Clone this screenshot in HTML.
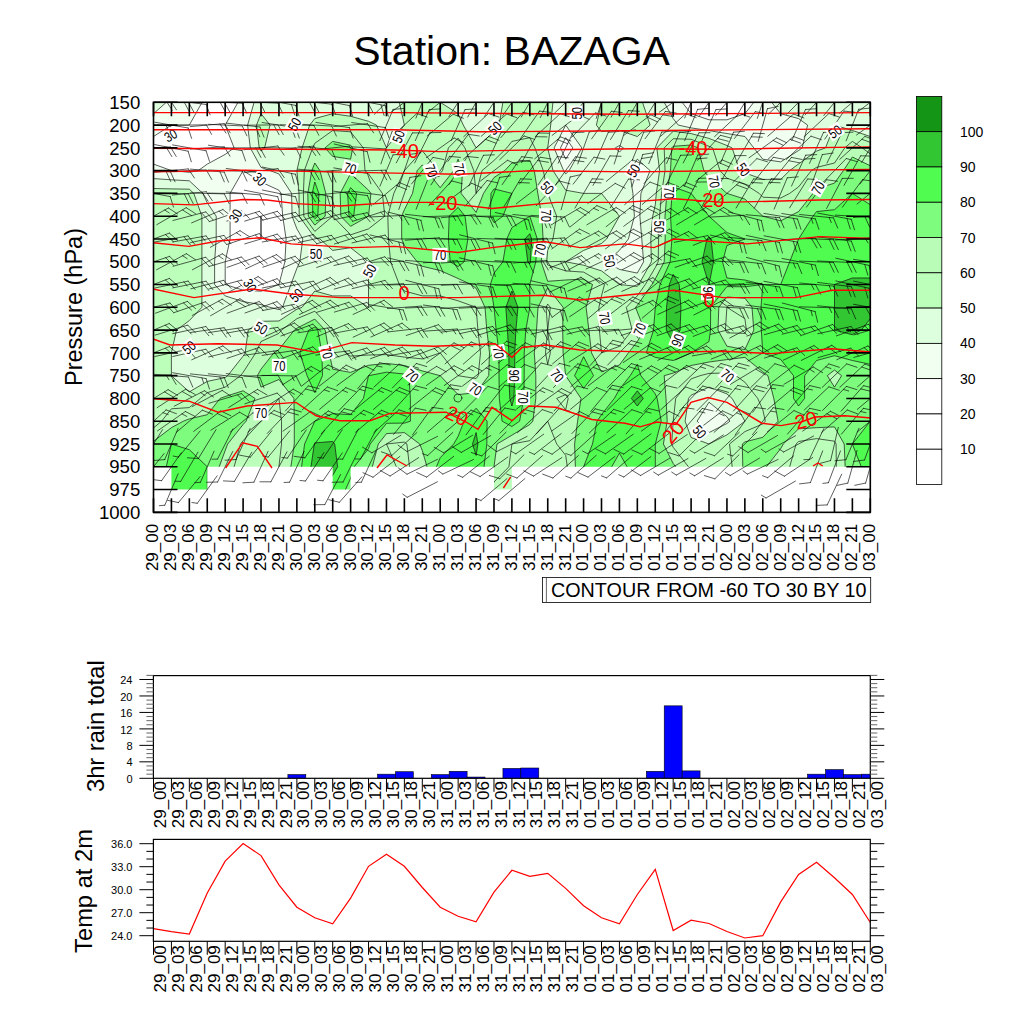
<!DOCTYPE html><html><head><meta charset="utf-8"><style>html,body{margin:0;padding:0;background:#fff;width:1024px;height:1024px;overflow:hidden}svg{display:block}text{font-family:"Liberation Sans",sans-serif}</style></head><body>
<svg width="1024" height="1024" viewBox="0 0 1024 1024">
<rect width="1024" height="1024" fill="#fff"/>
<text x="511.5" y="64.8" font-size="41" text-anchor="middle">Station: BAZAGA</text>
<defs><clipPath id="vc"><rect x="153.5" y="102.3" width="716.80" height="364.48"/><rect x="171.42" y="466.28" width="17.92" height="23.28"/><rect x="189.34" y="466.28" width="17.92" height="23.28"/><rect x="332.70" y="466.28" width="17.92" height="23.28"/><rect x="493.98" y="466.28" width="17.92" height="23.28"/></clipPath><clipPath id="pc"><rect x="153.5" y="102.3" width="716.80" height="410.04"/></clipPath></defs>
<g clip-path="url(#vc)">
<path d="M171.4 102.3L189.3 102.3L202.1 102.3L189.3 125.1L171.4 125.1L171.4 125.1L153.5 136.5L153.5 125.1L153.5 113.7L166.3 102.3ZM243.1 102.3L254.1 102.3L247.6 125.1L250.3 147.9L261.0 167.4L270.0 170.6L278.9 173.9L291.6 193.4L292.1 216.2L296.9 228.9L302.8 239.0L299.8 261.8L296.9 268.3L290.9 284.5L282.5 307.3L278.9 309.6L270.0 307.3L261.0 304.6L243.1 301.6L225.2 295.9L214.6 284.5L214.6 261.8L216.2 239.0L216.2 216.2L207.3 202.9L202.8 193.4L189.3 180.8L171.4 179.8L153.5 178.6L153.5 170.6L153.5 164.1L171.4 170.6L171.4 170.6L189.3 172.3L198.3 170.6L207.3 164.1L225.2 154.4L234.1 147.9L225.2 125.1L238.0 102.3ZM243.1 170.6L230.1 193.4L230.1 216.2L230.1 239.0L225.2 261.8L225.2 261.8L225.2 284.5L225.2 284.5L243.1 290.2L261.0 291.2L278.9 284.5L278.9 284.5L284.9 261.8L286.1 239.0L282.7 216.2L281.0 193.4L278.9 190.2L261.0 182.0L243.1 170.6L243.1 170.6ZM368.5 102.3L368.5 102.3L368.5 102.3L368.5 102.3ZM565.7 125.1L565.7 125.1L581.8 147.9L569.2 170.6L565.7 173.9L563.6 170.6L554.1 147.9L565.7 125.1ZM560.5 147.9L565.7 159.2L572.8 147.9L565.7 137.7ZM673.2 102.3L682.1 102.3L691.1 113.7L709.0 119.8L726.9 119.8L744.9 113.7L753.8 102.3L762.8 102.3L771.7 102.3L780.7 113.7L798.6 118.6L807.6 125.1L802.2 147.9L798.6 150.5L780.7 161.9L762.8 159.2L753.8 147.9L744.9 136.5L726.9 133.5L709.0 130.6L691.1 127.9L678.3 125.1L673.2 118.6L664.2 102.3ZM619.4 145.6L623.6 147.9L619.4 152.1L615.3 147.9ZM637.3 159.2L650.1 170.6L640.9 193.4L639.9 216.2L641.8 239.0L643.6 261.8L637.3 273.1L619.4 269.4L606.6 261.8L619.4 250.4L628.4 239.0L634.4 216.2L632.9 193.4L629.5 170.6ZM709.0 402.2L726.9 416.7L729.9 421.2L726.9 423.5L709.0 432.6L697.1 421.2ZM709.0 421.2L709.0 421.2L709.0 421.2L709.0 421.2Z" fill="#f0fff0" stroke="#f0fff0" stroke-width="0.3"/>
<path d="M153.5 113.7L153.5 102.3L166.3 102.3ZM261.0 102.3L278.9 102.3L296.9 102.3L314.8 102.3L332.7 102.3L350.6 102.3L368.5 102.3L368.5 102.3L368.5 102.3L386.5 102.3L399.3 102.3L404.4 125.1L404.4 125.1L404.4 125.1L386.5 147.9L386.5 147.9L386.5 147.9L376.5 125.1L368.5 121.3L350.6 116.3L332.7 113.7L314.8 118.6L309.7 125.1L302.1 147.9L296.9 170.6L299.0 193.4L299.2 216.2L314.8 237.7L319.9 239.0L332.7 250.4L350.6 247.7L368.5 261.8L368.5 261.8L368.5 284.5L368.5 307.3L368.5 307.3L368.5 307.3L350.6 295.9L332.7 295.9L314.8 291.0L302.0 307.3L296.9 309.2L278.9 321.0L261.0 321.3L248.2 330.1L245.2 352.9L243.1 356.1L227.7 375.7L225.2 377.6L207.3 381.4L189.3 391.9L171.4 375.7L171.4 375.7L171.4 352.9L171.4 352.9L176.5 330.1L189.3 320.6L201.9 307.3L201.9 284.5L201.9 261.8L201.9 239.0L201.9 216.2L193.8 193.4L189.3 189.2L171.4 188.9L153.5 188.5L153.5 178.6L171.4 179.8L189.3 180.8L202.8 193.4L207.3 202.9L216.2 216.2L216.2 239.0L214.6 261.8L214.6 284.5L225.2 295.9L243.1 301.6L261.0 304.6L270.0 307.3L278.9 309.6L282.5 307.3L290.9 284.5L296.9 268.3L299.8 261.8L302.8 239.0L296.9 228.9L292.1 216.2L291.6 193.4L278.9 173.9L270.0 170.6L261.0 167.4L250.3 147.9L247.6 125.1L254.1 102.3ZM256.5 125.1L259.2 147.9L261.0 151.1L264.6 147.9L270.0 125.1L261.0 113.7ZM440.2 102.3L458.1 102.3L476.1 102.3L494.0 102.3L502.9 102.3L499.1 125.1L494.0 131.6L476.1 147.9L476.1 147.9L476.1 147.9L463.3 125.1L458.1 113.7L440.2 102.3L440.2 102.3ZM565.7 102.3L583.6 102.3L601.5 102.3L601.5 102.3L601.5 102.3L596.4 125.1L601.5 131.6L619.4 130.4L637.3 136.5L650.1 125.1L642.5 102.3L655.3 102.3L664.2 102.3L673.2 118.6L678.3 125.1L691.1 127.9L709.0 130.6L726.9 133.5L744.9 136.5L753.8 147.9L762.8 159.2L780.7 161.9L798.6 150.5L802.2 147.9L807.6 125.1L798.6 118.6L780.7 113.7L771.7 102.3L780.7 102.3L798.6 102.3L816.5 102.3L834.5 102.3L852.4 102.3L870.3 102.3L870.3 125.1L870.3 136.5L852.4 130.5L834.5 125.1L825.5 147.9L816.5 151.1L798.6 163.9L789.7 170.6L780.7 179.4L762.8 179.4L744.9 172.9L739.7 170.6L732.1 147.9L726.9 145.5L709.0 138.4L691.1 133.6L673.2 131.2L656.8 147.9L659.6 170.6L656.3 193.4L655.3 204.8L652.7 216.2L650.8 239.0L651.4 261.8L638.7 284.5L637.3 286.4L619.4 284.5L619.4 284.5L601.5 270.9L583.6 265.2L565.7 261.8L565.7 261.8L565.7 261.8L583.6 250.4L601.5 243.5L606.6 239.0L619.4 216.2L601.5 193.4L583.6 193.4L583.6 193.4L565.7 190.2L553.0 170.6L547.7 147.9L547.7 147.9L547.7 147.9L550.7 125.1L552.9 102.3ZM565.7 125.1L554.1 147.9L563.6 170.6L565.7 173.9L569.2 170.6L581.8 147.9L565.7 125.1L565.7 125.1ZM615.3 147.9L619.4 152.1L623.6 147.9L619.4 145.6ZM629.5 170.6L632.9 193.4L634.4 216.2L628.4 239.0L619.4 250.4L606.6 261.8L619.4 269.4L637.3 273.1L643.6 261.8L641.8 239.0L639.9 216.2L640.9 193.4L650.1 170.6L637.3 159.2ZM691.1 395.2L709.0 387.1L726.9 393.9L732.1 398.4L744.9 421.2L744.9 421.2L744.9 421.2L726.9 434.9L709.0 444.0L709.0 444.0L709.0 444.0L691.1 437.5L685.1 421.2L688.5 398.4ZM697.1 421.2L709.0 432.6L726.9 423.5L729.9 421.2L726.9 416.7L709.0 402.2Z" fill="#ddffdd" stroke="#ddffdd" stroke-width="0.3"/>
<path d="M261.0 113.7L270.0 125.1L264.6 147.9L261.0 151.1L259.2 147.9L256.5 125.1ZM314.8 118.6L332.7 113.7L350.6 116.3L368.5 121.3L376.5 125.1L386.5 147.9L386.5 147.9L386.5 147.9L404.4 125.1L404.4 125.1L404.4 125.1L399.3 102.3L404.4 102.3L422.3 102.3L440.2 102.3L440.2 102.3L458.1 113.7L463.3 125.1L476.1 147.9L476.1 147.9L476.1 147.9L494.0 131.6L499.1 125.1L502.9 102.3L511.9 102.3L529.8 102.3L547.7 102.3L552.9 102.3L550.7 125.1L547.7 147.9L547.7 147.9L547.7 147.9L553.0 170.6L565.7 190.2L583.6 193.4L583.6 193.4L601.5 193.4L619.4 216.2L606.6 239.0L601.5 243.5L583.6 250.4L565.7 261.8L565.7 261.8L565.7 261.8L583.6 265.2L601.5 270.9L619.4 284.5L619.4 284.5L637.3 286.4L638.7 284.5L651.4 261.8L650.8 239.0L652.7 216.2L655.3 204.8L656.3 193.4L659.6 170.6L656.8 147.9L673.2 131.2L691.1 133.6L709.0 138.4L726.9 145.5L732.1 147.9L739.7 170.6L744.9 172.9L762.8 179.4L780.7 179.4L789.7 170.6L798.6 163.9L816.5 151.1L825.5 147.9L834.5 125.1L852.4 130.5L870.3 136.5L870.3 147.9L870.3 153.9L862.2 147.9L852.4 141.4L844.7 147.9L834.5 163.0L816.5 167.4L811.4 170.6L798.6 186.9L789.7 193.4L780.7 198.0L762.8 197.2L759.2 193.4L744.9 184.3L726.9 178.2L720.0 170.6L712.6 147.9L709.0 146.3L691.1 139.3L673.2 138.7L664.2 147.9L665.0 170.6L661.6 193.4L659.6 216.2L658.6 239.0L658.2 261.8L655.3 267.5L645.3 284.5L637.3 295.9L626.3 307.3L632.2 330.1L619.4 346.4L601.5 352.9L601.5 352.9L601.5 352.9L599.4 330.1L598.9 307.3L601.5 295.9L604.5 284.5L601.5 282.3L583.6 272.1L565.7 270.9L547.7 265.0L546.7 261.8L547.7 250.4L552.9 239.0L556.7 216.2L547.7 193.4L547.7 193.4L543.3 170.6L534.9 147.9L529.8 137.7L511.9 141.4L506.8 147.9L494.0 160.5L482.0 170.6L476.1 193.4L476.1 193.4L476.1 193.4L473.8 170.6L464.9 147.9L458.1 138.1L448.4 147.9L442.5 170.6L440.2 173.5L438.0 170.6L422.3 150.7L404.4 170.6L404.4 170.6L393.8 193.4L387.8 216.2L388.5 239.0L390.6 261.8L399.3 284.5L404.4 291.0L422.3 295.9L440.2 295.9L458.1 300.8L476.1 307.3L476.1 307.3L477.9 330.1L480.5 352.9L478.2 375.7L476.1 378.5L458.1 375.7L458.1 375.7L440.2 352.9L422.3 358.9L404.4 357.1L386.5 354.6L368.5 355.0L350.6 356.1L345.5 352.9L332.7 330.1L332.7 330.1L314.8 311.2L296.9 318.7L281.5 330.1L278.9 333.4L261.0 341.5L255.7 352.9L243.1 372.4L240.5 375.7L225.2 387.1L207.3 392.7L200.4 398.4L189.3 407.6L171.4 408.8L161.6 421.2L153.5 427.9L153.5 421.2L153.5 398.4L153.5 375.7L153.5 352.9L153.5 330.1L153.5 307.3L153.5 284.5L153.5 261.8L153.5 239.0L153.5 216.2L153.5 193.4L153.5 188.5L171.4 188.9L189.3 189.2L193.8 193.4L201.9 216.2L201.9 239.0L201.9 261.8L201.9 284.5L201.9 307.3L189.3 320.6L176.5 330.1L171.4 352.9L171.4 352.9L171.4 375.7L171.4 375.7L189.3 391.9L207.3 381.4L225.2 377.6L227.7 375.7L243.1 356.1L245.2 352.9L248.2 330.1L261.0 321.3L278.9 321.0L296.9 309.2L302.0 307.3L314.8 291.0L332.7 295.9L350.6 295.9L368.5 307.3L368.5 307.3L368.5 307.3L368.5 284.5L368.5 261.8L368.5 261.8L350.6 247.7L332.7 250.4L319.9 239.0L314.8 237.7L299.2 216.2L299.0 193.4L296.9 170.6L302.1 147.9L309.7 125.1ZM312.7 147.9L304.3 170.6L303.4 193.4L303.8 216.2L314.8 231.4L332.7 216.2L332.7 193.4L332.7 170.6L332.7 170.6L332.7 170.6L332.7 193.4L332.7 216.2L350.6 234.8L368.5 228.9L384.8 216.2L382.4 193.4L368.5 173.9L365.0 170.6L363.3 147.9L350.6 131.8L332.7 130.5L314.8 143.3ZM601.5 102.3L601.5 102.3L619.4 102.3L637.3 102.3L642.5 102.3L650.1 125.1L637.3 136.5L619.4 130.4L601.5 131.6L596.4 125.1ZM547.7 304.1L550.3 307.3L547.7 330.1L550.3 352.9L547.7 364.3L545.5 352.9L547.7 330.1L546.1 307.3ZM726.9 307.3L726.9 307.3L744.9 318.7L746.4 330.1L744.9 333.4L726.9 332.8L725.4 330.1L726.9 307.3ZM709.0 373.4L726.9 373.0L735.9 375.7L744.9 382.2L757.7 398.4L762.8 409.8L765.3 421.2L762.8 423.9L744.9 431.6L729.5 444.0L732.2 466.8L732.2 489.6L732.2 512.3L726.9 512.3L709.0 512.3L691.1 512.3L688.5 512.3L688.5 489.6L688.5 466.8L673.2 447.3L671.6 444.0L673.2 421.2L673.2 421.2L675.7 398.4L691.1 378.9L700.1 375.7ZM688.5 398.4L685.1 421.2L691.1 437.5L709.0 444.0L709.0 444.0L709.0 444.0L726.9 434.9L744.9 421.2L744.9 421.2L744.9 421.2L732.1 398.4L726.9 393.9L709.0 387.1L691.1 395.2ZM278.9 398.4L278.9 398.4L281.5 421.2L281.5 444.0L278.9 466.8L278.9 489.6L278.9 512.3L278.9 512.3L261.0 512.3L243.1 512.3L234.1 512.3L234.1 489.6L234.1 466.8L240.5 444.0L243.1 440.7L261.0 421.2L261.0 421.2L278.9 398.4ZM565.7 394.6L568.2 398.4L565.7 409.8L556.7 398.4ZM547.7 421.2L547.7 421.2L556.7 444.0L565.7 455.4L567.3 466.8L567.3 489.6L567.3 512.3L565.7 512.3L547.7 512.3L529.8 512.3L511.9 512.3L494.0 512.3L491.3 512.3L491.3 489.6L494.0 482.0L508.9 466.8L511.9 444.0L511.9 444.0L529.8 440.7L547.7 421.2ZM386.5 444.0L404.4 442.1L406.9 444.0L409.5 466.8L409.5 489.6L409.5 512.3L404.4 512.3L396.4 512.3L396.4 489.6L396.4 466.8L386.5 444.0L386.5 444.0ZM798.6 441.5L816.5 438.6L834.5 441.2L836.1 444.0L836.3 466.8L836.3 489.6L836.3 512.3L834.5 512.3L816.5 512.3L798.6 512.3L789.7 512.3L789.7 489.6L789.7 466.8L796.1 444.0Z" fill="#bbffbb" stroke="#bbffbb" stroke-width="0.3"/>
<path d="M314.8 143.3L332.7 130.5L350.6 131.8L363.3 147.9L365.0 170.6L368.5 173.9L382.4 193.4L384.8 216.2L368.5 228.9L350.6 234.8L332.7 216.2L332.7 193.4L332.7 170.6L332.7 170.6L332.7 170.6L332.7 193.4L332.7 216.2L314.8 231.4L303.8 216.2L303.4 193.4L304.3 170.6L312.7 147.9ZM325.0 147.9L332.7 156.4L350.6 159.2L352.7 147.9L350.6 145.2L332.7 141.4ZM311.8 170.6L307.8 193.4L308.3 216.2L314.8 225.1L325.2 216.2L325.8 193.4L319.9 170.6L314.8 163.0ZM340.2 193.4L340.8 216.2L350.6 226.3L368.5 216.2L368.5 216.2L370.9 193.4L368.5 190.2L350.6 173.5ZM458.1 138.1L464.9 147.9L473.8 170.6L476.1 193.4L476.1 193.4L476.1 193.4L482.0 170.6L494.0 160.5L506.8 147.9L511.9 141.4L529.8 137.7L534.9 147.9L543.3 170.6L547.7 193.4L547.7 193.4L556.7 216.2L552.9 239.0L547.7 250.4L546.7 261.8L547.7 265.0L565.7 270.9L583.6 272.1L601.5 282.3L604.5 284.5L601.5 295.9L598.9 307.3L599.4 330.1L601.5 352.9L601.5 352.9L601.5 352.9L619.4 346.4L632.2 330.1L626.3 307.3L637.3 295.9L645.3 284.5L655.3 267.5L658.2 261.8L658.6 239.0L659.6 216.2L661.6 193.4L665.0 170.6L664.2 147.9L673.2 138.7L691.1 139.3L709.0 146.3L712.6 147.9L720.0 170.6L726.9 178.2L744.9 184.3L759.2 193.4L762.8 197.2L780.7 198.0L789.7 193.4L798.6 186.9L811.4 170.6L816.5 167.4L834.5 163.0L844.7 147.9L852.4 141.4L862.2 147.9L870.3 153.9L870.3 165.8L852.4 157.0L843.4 170.6L834.5 183.1L816.5 188.9L813.0 193.4L798.6 211.6L789.7 216.2L780.7 220.8L762.8 216.2L762.8 216.2L744.9 199.1L726.9 193.4L726.9 193.4L709.0 177.1L703.9 170.6L698.0 147.9L691.1 145.0L673.2 146.3L671.7 147.9L670.5 170.6L666.9 193.4L665.0 216.2L665.2 239.0L664.2 261.8L655.3 278.8L651.9 284.5L637.3 305.4L635.5 307.3L637.3 311.9L644.5 330.1L637.3 341.5L628.4 352.9L619.4 365.0L601.5 371.9L591.5 352.9L588.9 330.1L586.1 307.3L592.5 284.5L583.6 279.0L565.7 280.0L547.7 281.3L541.2 261.8L543.1 239.0L541.8 216.2L537.8 193.4L534.3 170.6L529.8 160.3L511.9 163.0L504.7 170.6L494.0 177.5L483.5 193.4L476.1 212.4L461.1 193.4L462.6 170.6L458.1 159.2L453.7 170.6L440.2 187.7L426.8 170.6L422.3 164.9L417.2 170.6L412.5 193.4L404.4 209.7L401.6 216.2L401.7 239.0L404.4 245.5L417.2 261.8L422.3 266.3L440.2 270.5L458.1 278.5L470.9 284.5L476.1 288.3L485.0 307.3L486.8 330.1L489.5 352.9L488.7 375.7L476.1 392.7L458.1 394.6L440.2 375.7L440.2 375.7L422.3 370.9L404.4 365.5L386.5 363.4L368.5 365.3L350.6 372.4L332.7 369.2L329.1 352.9L325.2 330.1L314.8 319.1L296.9 328.2L294.3 330.1L278.9 349.6L273.8 352.9L261.0 369.2L257.4 375.7L261.0 387.1L278.9 379.5L293.9 398.4L294.3 421.2L294.3 444.0L290.9 466.8L290.9 489.6L290.9 512.3L278.9 512.3L278.9 489.6L278.9 466.8L281.5 444.0L281.5 421.2L278.9 398.4L278.9 398.4L278.9 398.4L261.0 421.2L261.0 421.2L243.1 440.7L240.5 444.0L234.1 466.8L234.1 489.6L234.1 512.3L225.2 512.3L219.2 512.3L219.2 489.6L219.2 466.8L225.2 450.5L227.7 444.0L243.1 424.5L246.1 421.2L255.0 398.4L243.1 390.8L225.2 396.5L220.1 398.4L207.3 414.7L189.3 418.9L183.4 421.2L171.4 427.7L153.5 441.3L153.5 427.9L161.6 421.2L171.4 408.8L189.3 407.6L200.4 398.4L207.3 392.7L225.2 387.1L240.5 375.7L243.1 372.4L255.7 352.9L261.0 341.5L278.9 333.4L281.5 330.1L296.9 318.7L314.8 311.2L332.7 330.1L332.7 330.1L345.5 352.9L350.6 356.1L368.5 355.0L386.5 354.6L404.4 357.1L422.3 358.9L440.2 352.9L458.1 375.7L458.1 375.7L476.1 378.5L478.2 375.7L480.5 352.9L477.9 330.1L476.1 307.3L476.1 307.3L458.1 300.8L440.2 295.9L422.3 295.9L404.4 291.0L399.3 284.5L390.6 261.8L388.5 239.0L387.8 216.2L393.8 193.4L404.4 170.6L404.4 170.6L422.3 150.7L438.0 170.6L440.2 173.5L442.5 170.6L448.4 147.9ZM547.7 287.8L563.1 307.3L562.7 330.1L563.1 352.9L565.7 375.7L565.7 375.7L581.0 398.4L577.6 421.2L574.6 444.0L575.4 466.8L575.4 489.6L575.4 512.3L567.3 512.3L567.3 489.6L567.3 466.8L565.7 455.4L556.7 444.0L547.7 421.2L547.7 421.2L547.7 421.2L529.8 440.7L511.9 444.0L511.9 444.0L508.9 466.8L494.0 482.0L491.3 489.6L491.3 512.3L485.8 512.3L485.8 489.6L494.0 466.8L494.0 466.8L497.0 444.0L511.9 435.2L529.8 424.5L532.8 421.2L535.8 398.4L535.8 375.7L534.3 352.9L536.5 330.1L538.0 307.3ZM546.1 307.3L547.7 330.1L545.5 352.9L547.7 364.3L550.3 352.9L547.7 330.1L550.3 307.3L547.7 304.1ZM556.7 398.4L565.7 409.8L568.2 398.4L565.7 394.6ZM726.9 297.0L744.9 298.2L752.0 307.3L753.8 330.1L744.9 349.6L726.9 346.2L718.0 330.1L718.8 307.3ZM726.9 307.3L725.4 330.1L726.9 332.8L744.9 333.4L746.4 330.1L744.9 318.7L726.9 307.3L726.9 307.3ZM673.2 373.1L691.1 365.5L709.0 362.0L726.9 359.6L744.9 357.4L762.8 371.9L767.9 375.7L773.8 398.4L778.1 421.2L762.8 437.3L744.9 441.9L742.3 444.0L742.8 466.8L742.8 489.6L742.8 512.3L732.2 512.3L732.2 489.6L732.2 466.8L729.5 444.0L744.9 431.6L762.8 423.9L765.3 421.2L762.8 409.8L757.7 398.4L744.9 382.2L735.9 375.7L726.9 373.0L709.0 373.4L700.1 375.7L691.1 378.9L675.7 398.4L673.2 421.2L673.2 421.2L671.6 444.0L673.2 447.3L688.5 466.8L688.5 489.6L688.5 512.3L675.7 512.3L675.7 489.6L675.7 466.8L673.2 463.5L663.4 444.0L667.2 421.2L666.0 398.4L664.2 375.7ZM834.5 370.0L841.6 375.7L834.5 387.1L827.3 375.7ZM386.5 433.6L404.4 432.6L419.7 444.0L422.3 450.5L427.0 466.8L427.0 489.6L427.0 512.3L422.3 512.3L409.5 512.3L409.5 489.6L409.5 466.8L406.9 444.0L404.4 442.1L386.5 444.0L386.5 444.0L386.5 444.0L396.4 466.8L396.4 489.6L396.4 512.3L386.5 512.3L372.3 512.3L372.3 489.6L372.3 466.8L378.3 444.0ZM798.6 428.8L816.5 427.7L834.5 426.9L844.2 444.0L845.2 466.8L845.2 489.6L845.2 512.3L836.3 512.3L836.3 489.6L836.3 466.8L836.1 444.0L834.5 441.2L816.5 438.6L798.6 441.5L796.1 444.0L789.7 466.8L789.7 489.6L789.7 512.3L780.7 512.3L766.4 512.3L766.4 489.6L766.4 466.8L780.7 448.6L783.3 444.0Z" fill="#b8fcb8" stroke="#b8fcb8" stroke-width="0.3"/>
<path d="M332.7 141.4L350.6 145.2L352.7 147.9L350.6 159.2L332.7 156.4L325.0 147.9ZM673.2 146.3L691.1 145.0L698.0 147.9L703.9 170.6L709.0 177.1L726.9 193.4L726.9 193.4L744.9 199.1L762.8 216.2L762.8 216.2L780.7 220.8L789.7 216.2L798.6 211.6L813.0 193.4L816.5 188.9L834.5 183.1L843.4 170.6L852.4 157.0L870.3 165.8L870.3 170.6L870.3 193.4L870.3 204.8L852.4 193.4L834.5 209.7L816.5 211.6L813.0 216.2L798.6 239.0L798.6 239.0L789.7 261.8L780.7 284.5L780.7 284.5L762.8 284.5L761.0 307.3L761.3 330.1L762.8 352.9L762.8 352.9L780.7 359.4L793.5 375.7L793.5 398.4L798.6 406.0L804.6 398.4L804.6 375.7L816.5 360.5L834.5 355.7L852.4 360.5L870.3 364.3L870.3 375.7L870.3 398.4L870.3 421.2L870.3 421.2L852.4 444.0L861.3 466.8L861.3 489.6L861.3 512.3L852.4 512.3L845.2 512.3L845.2 489.6L845.2 466.8L844.2 444.0L834.5 426.9L816.5 427.7L798.6 428.8L783.3 444.0L780.7 448.6L766.4 466.8L766.4 489.6L766.4 512.3L762.8 512.3L744.9 512.3L742.8 512.3L742.8 489.6L742.8 466.8L742.3 444.0L744.9 441.9L762.8 437.3L778.1 421.2L773.8 398.4L767.9 375.7L762.8 371.9L744.9 357.4L726.9 359.6L709.0 362.0L691.1 365.5L673.2 373.1L664.2 375.7L666.0 398.4L667.2 421.2L663.4 444.0L673.2 463.5L675.7 466.8L675.7 489.6L675.7 512.3L673.2 512.3L655.3 512.3L655.3 512.3L655.3 489.6L655.3 466.8L655.3 444.0L655.3 444.0L661.2 421.2L657.1 398.4L655.3 393.9L640.9 375.7L637.3 364.3L630.2 375.7L619.4 389.3L614.3 398.4L601.5 414.7L597.0 421.2L592.5 444.0L583.6 466.8L583.6 489.6L583.6 512.3L583.6 512.3L575.4 512.3L575.4 489.6L575.4 466.8L574.6 444.0L577.6 421.2L581.0 398.4L565.7 375.7L565.7 375.7L563.1 352.9L562.7 330.1L563.1 307.3L547.7 287.8L538.0 307.3L536.5 330.1L534.3 352.9L535.8 375.7L535.8 398.4L532.8 421.2L529.8 424.5L511.9 435.2L497.0 444.0L494.0 466.8L494.0 466.8L485.8 489.6L485.8 512.3L480.4 512.3L480.4 489.6L484.0 466.8L486.8 444.0L487.1 421.2L476.1 408.2L464.1 421.2L458.1 436.4L453.7 444.0L440.2 457.7L436.4 466.8L436.4 489.6L436.4 512.3L427.0 512.3L427.0 489.6L427.0 466.8L422.3 450.5L419.7 444.0L404.4 432.6L386.5 433.6L378.3 444.0L372.3 466.8L372.3 489.6L372.3 512.3L368.5 512.3L350.6 512.3L345.5 512.3L345.5 489.6L350.6 478.2L354.2 466.8L368.5 448.6L370.2 444.0L386.5 423.3L404.4 423.1L410.4 421.2L410.4 398.4L408.9 375.7L404.4 374.0L386.5 372.2L368.5 375.7L368.5 375.7L363.4 398.4L350.6 414.7L332.7 413.6L314.8 421.2L314.8 421.2L304.6 444.0L301.6 466.8L301.6 489.6L301.6 512.3L296.9 512.3L290.9 512.3L290.9 489.6L290.9 466.8L294.3 444.0L294.3 421.2L293.9 398.4L278.9 379.5L261.0 387.1L257.4 375.7L261.0 369.2L273.8 352.9L278.9 349.6L294.3 330.1L296.9 328.2L314.8 319.1L325.2 330.1L329.1 352.9L332.7 369.2L350.6 372.4L368.5 365.3L386.5 363.4L404.4 365.5L422.3 370.9L440.2 375.7L440.2 375.7L458.1 394.6L476.1 392.7L488.7 375.7L489.5 352.9L486.8 330.1L485.0 307.3L476.1 288.3L470.9 284.5L458.1 278.5L440.2 270.5L422.3 266.3L417.2 261.8L404.4 245.5L401.7 239.0L401.6 216.2L404.4 209.7L412.5 193.4L417.2 170.6L422.3 164.9L426.8 170.6L440.2 187.7L453.7 170.6L458.1 159.2L462.6 170.6L461.1 193.4L476.1 212.4L483.5 193.4L494.0 177.5L504.7 170.6L511.9 163.0L529.8 160.3L534.3 170.6L537.8 193.4L541.8 216.2L543.1 239.0L541.2 261.8L547.7 281.3L565.7 280.0L583.6 279.0L592.5 284.5L586.1 307.3L588.9 330.1L591.5 352.9L601.5 371.9L619.4 365.0L628.4 352.9L637.3 341.5L644.5 330.1L637.3 311.9L635.5 307.3L637.3 305.4L651.9 284.5L655.3 278.8L664.2 261.8L665.2 239.0L665.0 216.2L666.9 193.4L670.5 170.6L671.7 147.9ZM491.0 193.4L490.4 216.2L494.0 222.7L502.9 216.2L511.9 193.4L494.0 188.9ZM672.1 193.4L670.5 216.2L671.9 239.0L670.2 261.8L660.0 284.5L655.3 307.3L655.3 307.3L653.5 330.1L646.3 352.9L655.3 357.4L673.2 360.5L691.1 352.9L691.1 352.9L709.0 341.5L710.5 330.1L710.6 307.3L726.9 286.6L744.9 286.8L762.8 284.5L744.9 280.0L726.9 278.0L722.5 261.8L726.9 245.5L744.9 239.0L726.9 232.5L709.0 216.2L709.0 216.2L691.1 193.4L691.1 193.4L673.2 186.9ZM449.2 216.2L448.4 239.0L450.2 261.8L458.1 266.6L464.1 261.8L467.9 239.0L465.0 216.2L458.1 207.4ZM506.8 239.0L502.9 261.8L494.0 273.1L490.4 284.5L494.0 307.3L494.0 307.3L496.2 330.1L499.0 352.9L499.0 375.7L499.3 398.4L502.1 421.2L511.9 426.5L519.6 421.2L523.8 398.4L524.2 375.7L524.2 352.9L525.8 330.1L529.8 307.3L529.8 284.5L529.8 284.5L535.8 261.8L537.3 239.0L529.8 216.2L511.9 227.6ZM718.8 307.3L718.0 330.1L726.9 346.2L744.9 349.6L753.8 330.1L752.0 307.3L744.9 298.2L726.9 297.0ZM308.8 330.1L299.8 352.9L307.1 375.7L314.8 392.7L322.5 375.7L321.9 352.9L317.8 330.1L314.8 327.0ZM574.6 375.7L583.6 388.3L593.5 375.7L583.6 356.7ZM827.3 375.7L834.5 387.1L841.6 375.7L834.5 370.0ZM314.8 163.0L319.9 170.6L325.8 193.4L325.2 216.2L314.8 225.1L308.3 216.2L307.8 193.4L311.8 170.6ZM312.2 193.4L312.9 216.2L314.8 218.7L317.8 216.2L318.9 193.4L314.8 182.0ZM350.6 173.5L368.5 190.2L370.9 193.4L368.5 216.2L368.5 216.2L350.6 226.3L340.8 216.2L340.2 193.4ZM347.6 193.4L349.0 216.2L350.6 217.9L353.6 216.2L356.6 193.4L350.6 187.7ZM225.2 396.5L243.1 390.8L255.0 398.4L246.1 421.2L243.1 424.5L227.7 444.0L225.2 450.5L219.2 466.8L219.2 489.6L219.2 512.3L207.3 512.3L207.3 512.3L207.3 489.6L207.3 466.8L189.3 449.7L171.4 444.0L166.3 466.8L163.5 489.6L163.5 512.3L153.5 512.3L153.5 489.6L153.5 466.8L153.5 444.0L153.5 441.3L171.4 427.7L183.4 421.2L189.3 418.9L207.3 414.7L220.1 398.4ZM619.4 453.1L627.1 466.8L627.1 489.6L627.1 512.3L619.4 512.3L611.7 512.3L611.7 489.6L611.7 466.8Z" fill="#7dfc7d" stroke="#7dfc7d" stroke-width="0.3"/>
<path d="M314.8 182.0L318.9 193.4L317.8 216.2L314.8 218.7L312.9 216.2L312.2 193.4ZM350.6 187.7L356.6 193.4L353.6 216.2L350.6 217.9L349.0 216.2L347.6 193.4ZM494.0 188.9L511.9 193.4L502.9 216.2L494.0 222.7L490.4 216.2L491.0 193.4ZM673.2 186.9L691.1 193.4L691.1 193.4L709.0 216.2L709.0 216.2L726.9 232.5L744.9 239.0L726.9 245.5L722.5 261.8L726.9 278.0L744.9 280.0L762.8 284.5L744.9 286.8L726.9 286.6L710.6 307.3L710.5 330.1L709.0 341.5L691.1 352.9L691.1 352.9L673.2 360.5L655.3 357.4L646.3 352.9L653.5 330.1L655.3 307.3L655.3 307.3L660.0 284.5L670.2 261.8L671.9 239.0L670.5 216.2L672.1 193.4ZM707.0 239.0L702.1 261.8L709.0 284.5L713.5 261.8L711.0 239.0L709.0 236.9ZM669.4 284.5L666.5 307.3L666.3 330.1L673.2 342.8L680.1 330.1L680.9 307.3L679.2 284.5L673.2 274.4ZM458.1 207.4L465.0 216.2L467.9 239.0L464.1 261.8L458.1 266.6L450.2 261.8L448.4 239.0L449.2 216.2ZM816.5 211.6L834.5 209.7L852.4 193.4L870.3 204.8L870.3 216.2L870.3 239.0L870.3 261.8L870.3 278.0L852.4 278.0L834.5 284.5L834.5 307.3L834.5 330.1L852.4 334.7L861.3 330.1L870.3 318.7L870.3 330.1L870.3 352.9L870.3 364.3L852.4 360.5L834.5 355.7L816.5 360.5L804.6 375.7L804.6 398.4L798.6 406.0L793.5 398.4L793.5 375.7L780.7 359.4L762.8 352.9L762.8 352.9L761.3 330.1L761.0 307.3L762.8 284.5L780.7 284.5L780.7 284.5L789.7 261.8L798.6 239.0L798.6 239.0L813.0 216.2ZM511.9 227.6L529.8 216.2L537.3 239.0L535.8 261.8L529.8 284.5L529.8 284.5L529.8 307.3L525.8 330.1L524.2 352.9L524.2 375.7L523.8 398.4L519.6 421.2L511.9 426.5L502.1 421.2L499.3 398.4L499.0 375.7L499.0 352.9L496.2 330.1L494.0 307.3L494.0 307.3L490.4 284.5L494.0 273.1L502.9 261.8L506.8 239.0ZM524.9 239.0L527.8 261.8L529.8 263.8L530.4 261.8L531.6 239.0L529.8 233.7ZM505.9 307.3L507.4 330.1L508.9 352.9L508.9 375.7L509.8 398.4L511.9 406.0L513.9 398.4L514.7 375.7L514.7 352.9L515.9 330.1L517.9 307.3L511.9 291.0ZM314.8 327.0L317.8 330.1L321.9 352.9L322.5 375.7L314.8 392.7L307.1 375.7L299.8 352.9L308.8 330.1ZM386.5 372.2L404.4 374.0L408.9 375.7L410.4 398.4L410.4 421.2L404.4 423.1L386.5 423.3L370.2 444.0L368.5 448.6L354.2 466.8L350.6 478.2L345.5 489.6L345.5 512.3L332.7 512.3L322.7 512.3L322.7 489.6L332.7 475.3L337.6 466.8L334.7 444.0L332.7 441.5L314.8 442.9L314.3 444.0L311.0 466.8L311.0 489.6L311.0 512.3L301.6 512.3L301.6 489.6L301.6 466.8L304.6 444.0L314.8 421.2L314.8 421.2L332.7 413.6L350.6 414.7L363.4 398.4L368.5 375.7L368.5 375.7ZM583.6 356.7L593.5 375.7L583.6 388.3L574.6 375.7ZM637.3 364.3L640.9 375.7L655.3 393.9L657.1 398.4L661.2 421.2L655.3 444.0L655.3 444.0L655.3 466.8L655.3 489.6L655.3 512.3L637.3 512.3L627.1 512.3L627.1 489.6L627.1 466.8L619.4 453.1L611.7 466.8L611.7 489.6L611.7 512.3L601.5 512.3L583.6 512.3L583.6 489.6L583.6 466.8L592.5 444.0L597.0 421.2L601.5 414.7L614.3 398.4L619.4 389.3L630.2 375.7ZM631.4 398.4L637.3 406.0L643.3 398.4L637.3 390.8ZM476.1 408.2L487.1 421.2L486.8 444.0L484.0 466.8L480.4 489.6L480.4 512.3L476.1 512.3L458.1 512.3L440.2 512.3L436.4 512.3L436.4 489.6L436.4 466.8L440.2 457.7L453.7 444.0L458.1 436.4L464.1 421.2ZM472.5 444.0L476.1 455.4L477.9 444.0L476.1 432.6ZM870.3 421.2L870.3 444.0L870.3 466.8L870.3 489.6L870.3 512.3L861.3 512.3L861.3 489.6L861.3 466.8L852.4 444.0ZM171.4 444.0L189.3 449.7L207.3 466.8L207.3 489.6L207.3 512.3L189.3 512.3L171.4 512.3L163.5 512.3L163.5 489.6L166.3 466.8Z" fill="#50fc50" stroke="#50fc50" stroke-width="0.3"/>
<path d="M529.8 233.7L531.6 239.0L530.4 261.8L529.8 263.8L527.8 261.8L524.9 239.0ZM709.0 236.9L711.0 239.0L713.5 261.8L709.0 284.5L702.1 261.8L707.0 239.0ZM673.2 274.4L679.2 284.5L680.9 307.3L680.1 330.1L673.2 342.8L666.3 330.1L666.5 307.3L669.4 284.5ZM852.4 278.0L870.3 278.0L870.3 284.5L870.3 307.3L870.3 318.7L861.3 330.1L852.4 334.7L834.5 330.1L834.5 307.3L834.5 284.5ZM511.9 291.0L517.9 307.3L515.9 330.1L514.7 352.9L514.7 375.7L513.9 398.4L511.9 406.0L509.8 398.4L508.9 375.7L508.9 352.9L507.4 330.1L505.9 307.3ZM637.3 390.8L643.3 398.4L637.3 406.0L631.4 398.4ZM314.8 442.9L332.7 441.5L334.7 444.0L337.6 466.8L332.7 475.3L322.7 489.6L322.7 512.3L314.8 512.3L311.0 512.3L311.0 489.6L311.0 466.8L314.3 444.0ZM476.1 432.6L477.9 444.0L476.1 455.4L472.5 444.0Z" fill="#33c633" stroke="#33c633" stroke-width="0.3"/>
<path d="M709.0 102.3L709.0 102.3L726.9 102.3L726.9 102.3M261.0 216.2L261.0 216.2L261.0 239.0L261.0 239.0L261.0 239.0L261.0 216.2Z" fill="none" stroke="#000" stroke-width="0.8" stroke-opacity="0.8"/>
<path d="M202.1 102.3L189.3 125.1L171.4 125.1L171.4 125.1L153.5 136.5M682.1 102.3L691.1 113.7L709.0 119.8L726.9 119.8L744.9 113.7L753.8 102.3M153.5 164.1L171.4 170.6L171.4 170.6L189.3 172.3L198.3 170.6L207.3 164.1L225.2 154.4L234.1 147.9L225.2 125.1L238.0 102.3M565.7 137.7L560.5 147.9L565.7 159.2L572.8 147.9ZM243.1 170.6L243.1 170.6L230.1 193.4L230.1 216.2L230.1 239.0L225.2 261.8L225.2 261.8L225.2 284.5L225.2 284.5L243.1 290.2L261.0 291.2L278.9 284.5L278.9 284.5L284.9 261.8L286.1 239.0L282.7 216.2L281.0 193.4L278.9 190.2L261.0 182.0L243.1 170.6ZM709.0 421.2L709.0 421.2L709.0 421.2L709.0 421.2Z" fill="none" stroke="#000" stroke-width="0.8" stroke-opacity="0.8"/>
<path d="M166.3 102.3L153.5 113.7M368.5 102.3L368.5 102.3ZM664.2 102.3L673.2 118.6L678.3 125.1L691.1 127.9L709.0 130.6L726.9 133.5L744.9 136.5L753.8 147.9L762.8 159.2L780.7 161.9L798.6 150.5L802.2 147.9L807.6 125.1L798.6 118.6L780.7 113.7L771.7 102.3M153.5 178.6L171.4 179.8L189.3 180.8L202.8 193.4L207.3 202.9L216.2 216.2L216.2 239.0L214.6 261.8L214.6 284.5L225.2 295.9L243.1 301.6L261.0 304.6L270.0 307.3L278.9 309.6L282.5 307.3L290.9 284.5L296.9 268.3L299.8 261.8L302.8 239.0L296.9 228.9L292.1 216.2L291.6 193.4L278.9 173.9L270.0 170.6L261.0 167.4L250.3 147.9L247.6 125.1L254.1 102.3M565.7 125.1L565.7 125.1L554.1 147.9L563.6 170.6L565.7 173.9L569.2 170.6L581.8 147.9L565.7 125.1ZM619.4 145.6L615.3 147.9L619.4 152.1L623.6 147.9ZM637.3 159.2L629.5 170.6L632.9 193.4L634.4 216.2L628.4 239.0L619.4 250.4L606.6 261.8L619.4 269.4L637.3 273.1L643.6 261.8L641.8 239.0L639.9 216.2L640.9 193.4L650.1 170.6ZM709.0 402.2L697.1 421.2L709.0 432.6L726.9 423.5L729.9 421.2L726.9 416.7L709.0 402.2" fill="none" stroke="#000" stroke-width="0.8" stroke-opacity="0.8"/>
<path d="M440.2 102.3L440.2 102.3L458.1 113.7L463.3 125.1L476.1 147.9L476.1 147.9L476.1 147.9L494.0 131.6L499.1 125.1L502.9 102.3M552.9 102.3L550.7 125.1L547.7 147.9L547.7 147.9L547.7 147.9L553.0 170.6L565.7 190.2L583.6 193.4L583.6 193.4L601.5 193.4L619.4 216.2L606.6 239.0L601.5 243.5L583.6 250.4L565.7 261.8L565.7 261.8L565.7 261.8L583.6 265.2L601.5 270.9L619.4 284.5L619.4 284.5L637.3 286.4L638.7 284.5L651.4 261.8L650.8 239.0L652.7 216.2L655.3 204.8L656.3 193.4L659.6 170.6L656.8 147.9L673.2 131.2L691.1 133.6L709.0 138.4L726.9 145.5L732.1 147.9L739.7 170.6L744.9 172.9L762.8 179.4L780.7 179.4L789.7 170.6L798.6 163.9L816.5 151.1L825.5 147.9L834.5 125.1L852.4 130.5L870.3 136.5M642.5 102.3L650.1 125.1L637.3 136.5L619.4 130.4L601.5 131.6L596.4 125.1L601.5 102.3L601.5 102.3M153.5 188.5L171.4 188.9L189.3 189.2L193.8 193.4L201.9 216.2L201.9 239.0L201.9 261.8L201.9 284.5L201.9 307.3L189.3 320.6L176.5 330.1L171.4 352.9L171.4 352.9L171.4 375.7L171.4 375.7L189.3 391.9L207.3 381.4L225.2 377.6L227.7 375.7L243.1 356.1L245.2 352.9L248.2 330.1L261.0 321.3L278.9 321.0L296.9 309.2L302.0 307.3L314.8 291.0L332.7 295.9L350.6 295.9L368.5 307.3L368.5 307.3L368.5 307.3L368.5 284.5L368.5 261.8L368.5 261.8L350.6 247.7L332.7 250.4L319.9 239.0L314.8 237.7L299.2 216.2L299.0 193.4L296.9 170.6L302.1 147.9L309.7 125.1L314.8 118.6L332.7 113.7L350.6 116.3L368.5 121.3L376.5 125.1L386.5 147.9L386.5 147.9L386.5 147.9L404.4 125.1L404.4 125.1L404.4 125.1L399.3 102.3M261.0 113.7L270.0 125.1L264.6 147.9L261.0 151.1L259.2 147.9L256.5 125.1ZM691.1 395.2L688.5 398.4L685.1 421.2L691.1 437.5L709.0 444.0L709.0 444.0L709.0 444.0L726.9 434.9L744.9 421.2L744.9 421.2L744.9 421.2L732.1 398.4L726.9 393.9L709.0 387.1Z" fill="none" stroke="#000" stroke-width="0.8" stroke-opacity="0.8"/>
<path d="M153.5 427.9L161.6 421.2L171.4 408.8L189.3 407.6L200.4 398.4L207.3 392.7L225.2 387.1L240.5 375.7L243.1 372.4L255.7 352.9L261.0 341.5L278.9 333.4L281.5 330.1L296.9 318.7L314.8 311.2L332.7 330.1L332.7 330.1L345.5 352.9L350.6 356.1L368.5 355.0L386.5 354.6L404.4 357.1L422.3 358.9L440.2 352.9L458.1 375.7L458.1 375.7L476.1 378.5L478.2 375.7L480.5 352.9L477.9 330.1L476.1 307.3L476.1 307.3L458.1 300.8L440.2 295.9L422.3 295.9L404.4 291.0L399.3 284.5L390.6 261.8L388.5 239.0L387.8 216.2L393.8 193.4L404.4 170.6L404.4 170.6L422.3 150.7L438.0 170.6L440.2 173.5L442.5 170.6L448.4 147.9L458.1 138.1L464.9 147.9L473.8 170.6L476.1 193.4L476.1 193.4L476.1 193.4L482.0 170.6L494.0 160.5L506.8 147.9L511.9 141.4L529.8 137.7L534.9 147.9L543.3 170.6L547.7 193.4L547.7 193.4L556.7 216.2L552.9 239.0L547.7 250.4L546.7 261.8L547.7 265.0L565.7 270.9L583.6 272.1L601.5 282.3L604.5 284.5L601.5 295.9L598.9 307.3L599.4 330.1L601.5 352.9L601.5 352.9L601.5 352.9L619.4 346.4L632.2 330.1L626.3 307.3L637.3 295.9L645.3 284.5L655.3 267.5L658.2 261.8L658.6 239.0L659.6 216.2L661.6 193.4L665.0 170.6L664.2 147.9L673.2 138.7L691.1 139.3L709.0 146.3L712.6 147.9L720.0 170.6L726.9 178.2L744.9 184.3L759.2 193.4L762.8 197.2L780.7 198.0L789.7 193.4L798.6 186.9L811.4 170.6L816.5 167.4L834.5 163.0L844.7 147.9L852.4 141.4L862.2 147.9L870.3 153.9M278.9 512.3L278.9 489.6L278.9 466.8L281.5 444.0L281.5 421.2L278.9 398.4L278.9 398.4L278.9 398.4L261.0 421.2L261.0 421.2L243.1 440.7L240.5 444.0L234.1 466.8L234.1 489.6L234.1 512.3M409.5 512.3L409.5 489.6L409.5 466.8L406.9 444.0L404.4 442.1L386.5 444.0L386.5 444.0L386.5 444.0L396.4 466.8L396.4 489.6L396.4 512.3M567.3 512.3L567.3 489.6L567.3 466.8L565.7 455.4L556.7 444.0L547.7 421.2L547.7 421.2L547.7 421.2L529.8 440.7L511.9 444.0L511.9 444.0L508.9 466.8L494.0 482.0L491.3 489.6L491.3 512.3M732.2 512.3L732.2 489.6L732.2 466.8L729.5 444.0L744.9 431.6L762.8 423.9L765.3 421.2L762.8 409.8L757.7 398.4L744.9 382.2L735.9 375.7L726.9 373.0L709.0 373.4L700.1 375.7L691.1 378.9L675.7 398.4L673.2 421.2L673.2 421.2L671.6 444.0L673.2 447.3L688.5 466.8L688.5 489.6L688.5 512.3M836.3 512.3L836.3 489.6L836.3 466.8L836.1 444.0L834.5 441.2L816.5 438.6L798.6 441.5L796.1 444.0L789.7 466.8L789.7 489.6L789.7 512.3M314.8 143.3L332.7 130.5L350.6 131.8L363.3 147.9L365.0 170.6L368.5 173.9L382.4 193.4L384.8 216.2L368.5 228.9L350.6 234.8L332.7 216.2L332.7 193.4L332.7 170.6L332.7 170.6L332.7 170.6L332.7 193.4L332.7 216.2L314.8 231.4L303.8 216.2L303.4 193.4L304.3 170.6L312.7 147.9ZM547.7 304.1L546.1 307.3L547.7 330.1L545.5 352.9L547.7 364.3L550.3 352.9L547.7 330.1L550.3 307.3ZM726.9 307.3L726.9 307.3L725.4 330.1L726.9 332.8L744.9 333.4L746.4 330.1L744.9 318.7L726.9 307.3ZM565.7 394.6L556.7 398.4L565.7 409.8L568.2 398.4Z" fill="none" stroke="#000" stroke-width="0.8" stroke-opacity="0.8"/>
<path d="M153.5 441.3L171.4 427.7L183.4 421.2L189.3 418.9L207.3 414.7L220.1 398.4L225.2 396.5L243.1 390.8L255.0 398.4L246.1 421.2L243.1 424.5L227.7 444.0L225.2 450.5L219.2 466.8L219.2 489.6L219.2 512.3M290.9 512.3L290.9 489.6L290.9 466.8L294.3 444.0L294.3 421.2L293.9 398.4L278.9 379.5L261.0 387.1L257.4 375.7L261.0 369.2L273.8 352.9L278.9 349.6L294.3 330.1L296.9 328.2L314.8 319.1L325.2 330.1L329.1 352.9L332.7 369.2L350.6 372.4L368.5 365.3L386.5 363.4L404.4 365.5L422.3 370.9L440.2 375.7L440.2 375.7L458.1 394.6L476.1 392.7L488.7 375.7L489.5 352.9L486.8 330.1L485.0 307.3L476.1 288.3L470.9 284.5L458.1 278.5L440.2 270.5L422.3 266.3L417.2 261.8L404.4 245.5L401.7 239.0L401.6 216.2L404.4 209.7L412.5 193.4L417.2 170.6L422.3 164.9L426.8 170.6L440.2 187.7L453.7 170.6L458.1 159.2L462.6 170.6L461.1 193.4L476.1 212.4L483.5 193.4L494.0 177.5L504.7 170.6L511.9 163.0L529.8 160.3L534.3 170.6L537.8 193.4L541.8 216.2L543.1 239.0L541.2 261.8L547.7 281.3L565.7 280.0L583.6 279.0L592.5 284.5L586.1 307.3L588.9 330.1L591.5 352.9L601.5 371.9L619.4 365.0L628.4 352.9L637.3 341.5L644.5 330.1L637.3 311.9L635.5 307.3L637.3 305.4L651.9 284.5L655.3 278.8L664.2 261.8L665.2 239.0L665.0 216.2L666.9 193.4L670.5 170.6L671.7 147.9L673.2 146.3L691.1 145.0L698.0 147.9L703.9 170.6L709.0 177.1L726.9 193.4L726.9 193.4L744.9 199.1L762.8 216.2L762.8 216.2L780.7 220.8L789.7 216.2L798.6 211.6L813.0 193.4L816.5 188.9L834.5 183.1L843.4 170.6L852.4 157.0L870.3 165.8M427.0 512.3L427.0 489.6L427.0 466.8L422.3 450.5L419.7 444.0L404.4 432.6L386.5 433.6L378.3 444.0L372.3 466.8L372.3 489.6L372.3 512.3M575.4 512.3L575.4 489.6L575.4 466.8L574.6 444.0L577.6 421.2L581.0 398.4L565.7 375.7L565.7 375.7L563.1 352.9L562.7 330.1L563.1 307.3L547.7 287.8L538.0 307.3L536.5 330.1L534.3 352.9L535.8 375.7L535.8 398.4L532.8 421.2L529.8 424.5L511.9 435.2L497.0 444.0L494.0 466.8L494.0 466.8L485.8 489.6L485.8 512.3M742.8 512.3L742.8 489.6L742.8 466.8L742.3 444.0L744.9 441.9L762.8 437.3L778.1 421.2L773.8 398.4L767.9 375.7L762.8 371.9L744.9 357.4L726.9 359.6L709.0 362.0L691.1 365.5L673.2 373.1L664.2 375.7L666.0 398.4L667.2 421.2L663.4 444.0L673.2 463.5L675.7 466.8L675.7 489.6L675.7 512.3M845.2 512.3L845.2 489.6L845.2 466.8L844.2 444.0L834.5 426.9L816.5 427.7L798.6 428.8L783.3 444.0L780.7 448.6L766.4 466.8L766.4 489.6L766.4 512.3M332.7 141.4L350.6 145.2L352.7 147.9L350.6 159.2L332.7 156.4L325.0 147.9ZM314.8 163.0L319.9 170.6L325.8 193.4L325.2 216.2L314.8 225.1L308.3 216.2L307.8 193.4L311.8 170.6ZM350.6 173.5L368.5 190.2L370.9 193.4L368.5 216.2L368.5 216.2L350.6 226.3L340.8 216.2L340.2 193.4ZM726.9 297.0L718.8 307.3L718.0 330.1L726.9 346.2L744.9 349.6L753.8 330.1L752.0 307.3L744.9 298.2ZM834.5 370.0L827.3 375.7L834.5 387.1L841.6 375.7Z" fill="none" stroke="#000" stroke-width="0.8" stroke-opacity="0.8"/>
<path d="M870.3 364.3L852.4 360.5L834.5 355.7L816.5 360.5L804.6 375.7L804.6 398.4L798.6 406.0L793.5 398.4L793.5 375.7L780.7 359.4L762.8 352.9L762.8 352.9L761.3 330.1L761.0 307.3L762.8 284.5L780.7 284.5L780.7 284.5L789.7 261.8L798.6 239.0L798.6 239.0L813.0 216.2L816.5 211.6L834.5 209.7L852.4 193.4L870.3 204.8M163.5 512.3L163.5 489.6L166.3 466.8L171.4 444.0L189.3 449.7L207.3 466.8L207.3 489.6L207.3 512.3M301.6 512.3L301.6 489.6L301.6 466.8L304.6 444.0L314.8 421.2L314.8 421.2L332.7 413.6L350.6 414.7L363.4 398.4L368.5 375.7L368.5 375.7L386.5 372.2L404.4 374.0L408.9 375.7L410.4 398.4L410.4 421.2L404.4 423.1L386.5 423.3L370.2 444.0L368.5 448.6L354.2 466.8L350.6 478.2L345.5 489.6L345.5 512.3M436.4 512.3L436.4 489.6L436.4 466.8L440.2 457.7L453.7 444.0L458.1 436.4L464.1 421.2L476.1 408.2L487.1 421.2L486.8 444.0L484.0 466.8L480.4 489.6L480.4 512.3M583.6 512.3L583.6 489.6L583.6 466.8L592.5 444.0L597.0 421.2L601.5 414.7L614.3 398.4L619.4 389.3L630.2 375.7L637.3 364.3L640.9 375.7L655.3 393.9L657.1 398.4L661.2 421.2L655.3 444.0L655.3 444.0L655.3 466.8L655.3 489.6L655.3 512.3M627.1 512.3L627.1 489.6L627.1 466.8L619.4 453.1L611.7 466.8L611.7 489.6L611.7 512.3M861.3 512.3L861.3 489.6L861.3 466.8L852.4 444.0L870.3 421.2M314.8 182.0L318.9 193.4L317.8 216.2L314.8 218.7L312.9 216.2L312.2 193.4ZM350.6 187.7L356.6 193.4L353.6 216.2L350.6 217.9L349.0 216.2L347.6 193.4ZM494.0 188.9L511.9 193.4L502.9 216.2L494.0 222.7L490.4 216.2L491.0 193.4ZM673.2 186.9L691.1 193.4L691.1 193.4L709.0 216.2L709.0 216.2L726.9 232.5L744.9 239.0L726.9 245.5L722.5 261.8L726.9 278.0L744.9 280.0L762.8 284.5L744.9 286.8L726.9 286.6L710.6 307.3L710.5 330.1L709.0 341.5L691.1 352.9L691.1 352.9L673.2 360.5L655.3 357.4L646.3 352.9L653.5 330.1L655.3 307.3L655.3 307.3L660.0 284.5L670.2 261.8L671.9 239.0L670.5 216.2L672.1 193.4ZM458.1 207.4L465.0 216.2L467.9 239.0L464.1 261.8L458.1 266.6L450.2 261.8L448.4 239.0L449.2 216.2ZM511.9 227.6L529.8 216.2L537.3 239.0L535.8 261.8L529.8 284.5L529.8 284.5L529.8 307.3L525.8 330.1L524.2 352.9L524.2 375.7L523.8 398.4L519.6 421.2L511.9 426.5L502.1 421.2L499.3 398.4L499.0 375.7L499.0 352.9L496.2 330.1L494.0 307.3L494.0 307.3L490.4 284.5L494.0 273.1L502.9 261.8L506.8 239.0ZM314.8 327.0L317.8 330.1L321.9 352.9L322.5 375.7L314.8 392.7L307.1 375.7L299.8 352.9L308.8 330.1ZM583.6 356.7L593.5 375.7L583.6 388.3L574.6 375.7Z" fill="none" stroke="#000" stroke-width="0.8" stroke-opacity="0.8"/>
<path d="M870.3 318.7L861.3 330.1L852.4 334.7L834.5 330.1L834.5 307.3L834.5 284.5L852.4 278.0L870.3 278.0M311.0 512.3L311.0 489.6L311.0 466.8L314.3 444.0L314.8 442.9L332.7 441.5L334.7 444.0L337.6 466.8L332.7 475.3L322.7 489.6L322.7 512.3M529.8 233.7L531.6 239.0L530.4 261.8L529.8 263.8L527.8 261.8L524.9 239.0ZM709.0 236.9L711.0 239.0L713.5 261.8L709.0 284.5L702.1 261.8L707.0 239.0ZM673.2 274.4L679.2 284.5L680.9 307.3L680.1 330.1L673.2 342.8L666.3 330.1L666.5 307.3L669.4 284.5ZM511.9 291.0L517.9 307.3L515.9 330.1L514.7 352.9L514.7 375.7L513.9 398.4L511.9 406.0L509.8 398.4L508.9 375.7L508.9 352.9L507.4 330.1L505.9 307.3ZM637.3 390.8L643.3 398.4L637.3 406.0L631.4 398.4ZM476.1 432.6L477.9 444.0L476.1 455.4L472.5 444.0Z" fill="none" stroke="#000" stroke-width="0.8" stroke-opacity="0.8"/>
</g>
<g clip-path="url(#pc)" stroke="#000" stroke-width="0.75" stroke-opacity="0.85" fill="none" stroke-linecap="round">
<path d="M136.6 103.9L170.4 100.7M170.4 100.7l6.1 9.2M166.2 101.1l6.1 9.2M154.4 102.5L188.4 102.1M188.4 102.1l5.3 9.7M184.2 102.2l5.3 9.7M172.5 100.1L206.2 104.5M206.2 104.5l3.9 10.3M190.3 102.5L224.3 102.1M224.3 102.1l5.3 9.6M220.0 102.1l5.3 9.6M208.2 101.4L242.2 103.2M242.2 103.2l4.6 10.0M226.1 101.9L260.1 102.7M260.1 102.7l4.9 9.8M244.0 101.4L278.0 103.2M278.0 103.2l4.6 10.0M262.2 99.2L295.7 105.4M295.7 105.4l3.3 10.5M291.5 104.6l3.3 10.5M279.9 102.1L313.9 102.5M313.9 102.5l5.1 9.8M309.6 102.4l5.1 9.8M297.9 100.4L331.7 104.2M331.7 104.2l4.0 10.2M316.0 99.0L349.4 105.6M349.4 105.6l3.2 10.5M333.6 102.3L367.6 102.3M367.6 102.3l5.2 9.7M351.9 98.9L385.2 105.7M385.2 105.7l3.1 10.6M381.0 104.9l3.1 10.6M374.4 114.3L398.5 90.3M398.5 90.3l10.5 3.2M390.8 112.5L418.0 92.1M418.0 92.1l10.0 4.6M415.9 118.1L428.7 86.5M428.7 86.5l10.9 -1.2M427.1 90.5l10.9 -1.2M426.9 112.9L453.5 91.7M453.5 91.7l10.1 4.4M448.9 116.6L467.4 88.0M467.4 88.0l11.0 0.9M467.7 117.1L484.4 87.5M484.4 87.5l11.0 0.2M484.5 116.4L503.4 88.2M503.4 88.2l10.9 1.1M501.1 91.7l10.9 1.1M502.3 116.3L521.5 88.3M521.5 88.3l10.9 1.2M521.3 117.0L538.3 87.6M538.3 87.6l11.0 0.4M536.2 91.2l11.0 0.4M540.3 117.6L555.2 87.0M555.2 87.0l11.0 -0.4M553.5 114.2L577.8 90.4M577.8 90.4l10.5 3.4M573.1 115.7L594.0 88.9M594.0 88.9l10.8 1.9M596.2 118.4L606.8 86.2M606.8 86.2l10.8 -1.8M611.1 117.2L627.7 87.4M627.7 87.4l11.0 0.2M628.9 117.0L645.8 87.6M645.8 87.6l11.0 0.3M646.2 116.7L664.4 87.9M664.4 87.9l11.0 0.8M662.1 91.5l11.0 0.8M659.3 112.2L687.0 92.4M687.0 92.4l9.8 4.9M684.7 118.0L697.5 86.6M697.5 86.6l10.9 -1.1M695.9 90.5l10.9 -1.1M699.2 116.2L718.8 88.4M718.8 88.4l10.9 1.4M716.4 91.9l10.9 1.4M715.9 115.3L738.0 89.3M738.0 89.3l10.7 2.4M735.2 92.6l10.7 2.4M736.1 116.8L753.7 87.8M753.7 87.8l11.0 0.6M757.3 118.4L768.2 86.2M768.2 86.2l10.9 -1.8M768.4 114.1L793.0 90.5M793.0 90.5l10.4 3.4M789.9 93.5l10.4 3.4M786.7 114.4L810.5 90.2M810.5 90.2l10.5 3.1M805.1 114.9L828.0 89.7M828.0 89.7l10.7 2.7M823.8 115.6L845.1 89.0M845.1 89.0l10.8 2.0M839.4 113.3L865.4 91.3M865.4 91.3l10.2 4.1M862.1 94.1l10.2 4.1M856.8 112.6L883.8 92.0M883.8 92.0l10.0 4.6M136.5 124.4L170.5 125.8M170.5 125.8l4.7 9.9M166.2 125.6l4.7 9.9M154.7 122.2L188.2 128.0M188.2 128.0l3.4 10.4M172.3 125.3L206.3 124.8M206.3 124.8l5.3 9.6M190.3 126.6L224.2 123.6M224.2 123.6l6.0 9.2M220.0 123.9l6.0 9.2M208.2 124.3L242.2 125.9M242.2 125.9l4.7 9.9M226.2 123.1L260.0 127.0M260.0 127.0l4.0 10.2M255.8 126.6l4.0 10.2M244.0 125.2L278.0 124.9M278.0 124.9l5.3 9.7M273.8 125.0l5.3 9.7M262.1 122.5L295.7 127.7M295.7 127.7l3.6 10.4M291.5 127.0l3.6 10.4M279.9 124.7L313.9 125.5M313.9 125.5l4.9 9.8M297.8 124.1L331.8 126.1M331.8 126.1l4.6 10.0M315.9 122.4L349.5 127.7M349.5 127.7l3.6 10.4M333.7 126.5L367.6 123.7M367.6 123.7l6.0 9.2M351.7 122.5L385.4 127.6M385.4 127.6l3.7 10.4M379.8 140.7L393.1 109.4M393.1 109.4l11.0 -1.0M391.9 136.7L416.8 113.5M416.8 113.5l10.4 3.6M415.3 140.6L429.3 109.6M429.3 109.6l11.0 -0.7M427.2 136.0L453.2 114.2M453.2 114.2l10.2 4.1M451.1 140.6L465.1 109.6M465.1 109.6l11.0 -0.7M463.4 113.5l11.0 -0.7M463.7 136.7L488.5 113.5M488.5 113.5l10.4 3.6M481.2 136.3L506.7 113.9M506.7 113.9l10.3 3.9M500.7 137.8L523.1 112.3M523.1 112.3l10.7 2.5M520.1 139.0L539.5 111.1M539.5 111.1l10.9 1.3M535.2 136.6L560.3 113.6M560.3 113.6l10.4 3.7M552.1 135.4L579.2 114.8M579.2 114.8l10.0 4.6M571.7 137.3L595.4 112.9M595.4 112.9l10.6 3.1M591.6 138.9L611.4 111.2M611.4 111.2l10.9 1.4M610.5 139.5L628.4 110.6M628.4 110.6l11.0 0.7M623.8 135.4L650.8 114.8M650.8 114.8l10.0 4.6M647.5 117.3l10.0 4.6M645.1 138.7L665.4 111.4M665.4 111.4l10.9 1.7M662.9 114.9l10.9 1.7M660.5 136.4L685.8 113.7M685.8 113.7l10.3 3.8M684.6 140.8L697.6 109.4M697.6 109.4l10.9 -1.1M702.0 140.6L716.0 109.6M716.0 109.6l11.0 -0.7M714.5 136.7L739.4 113.5M739.4 113.5l10.4 3.6M734.4 138.5L755.3 111.7M755.3 111.7l10.8 1.9M758.2 141.4L767.4 108.7M767.4 108.7l10.8 -2.3M767.8 136.2L793.6 114.0M793.6 114.0l10.3 4.0M791.8 140.6L805.5 109.5M805.5 109.5l11.0 -0.8M803.8 113.4l11.0 -0.8M804.1 136.7L828.9 113.5M828.9 113.5l10.4 3.6M824.8 139.1L844.1 111.1M844.1 111.1l10.9 1.2M846.1 140.9L858.7 109.3M858.7 109.3l10.9 -1.2M856.5 135.0L884.1 115.2M884.1 115.2l9.9 4.9M136.5 148.8L170.5 147.0M170.5 147.0l5.7 9.4M166.2 147.2l5.7 9.4M154.7 144.6L188.1 151.2M188.1 151.2l3.2 10.5M172.6 144.9L206.1 150.8M206.1 150.8l3.4 10.5M190.3 149.0L224.2 146.8M224.2 146.8l5.8 9.4M208.4 145.2L242.0 150.6M242.0 150.6l3.6 10.4M226.1 147.9L260.1 147.8M260.1 147.8l5.2 9.7M255.8 147.8l5.2 9.7M244.1 149.7L277.9 146.0M277.9 146.0l6.2 9.1M261.9 147.6L295.9 148.1M295.9 148.1l5.0 9.8M280.0 149.7L313.8 146.1M313.8 146.1l6.2 9.1M309.5 146.5l6.2 9.1M297.9 146.2L331.7 149.6M331.7 149.6l4.2 10.2M315.8 149.6L349.6 146.2M349.6 146.2l6.1 9.1M334.1 144.0L367.2 151.7M367.2 151.7l2.8 10.6M351.6 146.8L385.5 148.9M385.5 148.9l4.6 10.0M380.9 163.9L392.0 131.8M392.0 131.8l10.9 -1.7M396.3 162.8L412.4 132.9M412.4 132.9l11.0 0.0M414.6 163.0L430.0 132.7M430.0 132.7l11.0 -0.2M426.3 157.7L454.1 138.0M454.1 138.0l9.8 4.9M447.9 161.4L468.4 134.3M468.4 134.3l10.9 1.7M463.4 159.2L488.7 136.5M488.7 136.5l10.3 3.8M485.6 139.4l10.3 3.8M486.9 163.3L501.1 132.4M501.1 132.4l11.0 -0.6M499.7 159.7L524.1 136.0M524.1 136.0l10.5 3.4M521.6 162.7L538.1 133.0M538.1 133.0l11.0 0.2M536.0 136.7l11.0 0.2M534.7 158.8L560.7 136.9M560.7 136.9l10.2 4.1M557.5 139.6l10.2 4.1M558.2 163.2L573.1 132.6M573.1 132.6l11.0 -0.4M577.8 163.9L589.3 131.9M589.3 131.9l10.9 -1.6M594.7 163.4L608.3 132.3M608.3 132.3l11.0 -0.9M614.2 164.0L624.6 131.7M624.6 131.7l10.8 -1.9M630.9 163.6L643.8 132.1M643.8 132.1l10.9 -1.1M648.8 163.6L661.7 132.1M661.7 132.1l10.9 -1.1M666.6 163.5L679.8 132.2M679.8 132.2l11.0 -1.0M683.2 162.9L699.0 132.8M699.0 132.8l11.0 -0.1M697.5 160.4L720.5 135.3M720.5 135.3l10.6 2.8M717.6 138.5l10.6 2.8M720.4 163.5L733.5 132.2M733.5 132.2l11.0 -1.0M736.3 162.6L753.4 133.2M753.4 133.2l11.0 0.4M751.3 136.8l11.0 0.4M749.0 157.8L776.6 137.9M776.6 137.9l9.9 4.8M773.1 140.4l9.9 4.8M768.0 159.2L793.4 136.5M793.4 136.5l10.3 3.8M790.2 139.3l10.3 3.8M786.3 159.5L811.0 136.2M811.0 136.2l10.4 3.5M809.5 163.4L823.5 132.4M823.5 132.4l11.0 -0.7M827.0 163.1L841.9 132.6M841.9 132.6l11.0 -0.4M839.8 159.3L865.0 136.4M865.0 136.4l10.3 3.7M861.8 139.3l10.3 3.7M861.7 162.5L878.9 133.2M878.9 133.2l11.0 0.4M136.5 169.5L170.5 171.8M170.5 171.8l4.5 10.0M166.2 171.5l4.5 10.0M154.5 172.3L188.3 168.9M188.3 168.9l6.1 9.1M172.4 171.3L206.3 170.0M206.3 170.0l5.5 9.5M190.3 169.1L224.2 172.1M224.2 172.1l4.3 10.1M220.0 171.8l4.3 10.1M208.2 170.0L242.2 171.2M242.2 171.2l4.8 9.9M226.2 168.5L260.0 172.8M260.0 172.8l3.9 10.3M255.7 172.2l3.9 10.3M244.1 172.7L277.9 168.6M277.9 168.6l6.3 9.0M262.3 167.0L295.5 174.3M295.5 174.3l2.9 10.6M291.4 173.4l2.9 10.6M279.9 171.1L313.9 170.2M313.9 170.2l5.4 9.6M309.6 170.3l5.4 9.6M297.8 169.2L331.7 172.1M331.7 172.1l4.3 10.1M327.5 171.7l4.3 10.1M315.7 171.8L349.7 169.4M349.7 169.4l5.8 9.3M333.8 167.9L367.4 173.4M367.4 173.4l3.5 10.4M351.5 171.1L385.5 170.2M385.5 170.2l5.4 9.6M381.3 170.3l5.4 9.6M379.9 186.3L393.0 154.9M393.0 154.9l10.9 -1.1M398.9 186.7L409.8 154.5M409.8 154.5l10.9 -1.8M411.6 183.9L433.0 157.4M433.0 157.4l10.8 2.1M431.0 184.9L449.5 156.4M449.5 156.4l11.0 1.0M448.8 184.8L467.5 156.5M467.5 156.5l10.9 1.1M468.8 186.0L483.4 155.3M483.4 155.3l11.0 -0.5M480.5 181.0L507.5 160.3M507.5 160.3l10.0 4.6M502.2 184.6L521.6 156.7M521.6 156.7l10.9 1.3M519.2 160.2l10.9 1.3M519.4 184.1L540.2 157.2M540.2 157.2l10.8 1.8M537.6 160.5l10.8 1.8M538.2 184.7L557.3 156.6M557.3 156.6l10.9 1.2M555.8 184.5L575.5 156.8M575.5 156.8l10.9 1.4M573.1 160.3l10.9 1.4M573.2 184.1L594.0 157.2M594.0 157.2l10.8 1.9M593.0 185.4L610.0 155.9M610.0 155.9l11.0 0.4M606.3 181.4L632.6 159.9M632.6 159.9l10.1 4.2M631.9 186.7L642.8 154.5M642.8 154.5l10.9 -1.8M641.4 158.6l10.9 -1.8M644.1 183.5L666.4 157.8M666.4 157.8l10.7 2.4M665.8 185.9L680.6 155.3M680.6 155.3l11.0 -0.4M684.4 186.3L697.8 155.0M697.8 155.0l11.0 -0.9M696.1 158.9l11.0 -0.9M695.8 181.4L722.2 159.9M722.2 159.9l10.1 4.3M718.9 162.6l10.1 4.3M718.9 185.6L735.0 155.6M735.0 155.6l11.0 0.0M732.8 182.6L756.9 158.6M756.9 158.6l10.5 3.2M752.2 184.0L773.3 157.3M773.3 157.3l10.8 2.0M770.0 183.9L791.4 157.4M791.4 157.4l10.8 2.1M788.7 160.7l10.8 2.1M791.5 186.1L805.7 155.2M805.7 155.2l11.0 -0.6M804.0 159.1l11.0 -0.6M810.8 186.7L822.3 154.6M822.3 154.6l10.9 -1.6M822.6 182.8L846.3 158.5M846.3 158.5l10.6 3.1M844.0 185.4L860.7 155.8M860.7 155.8l11.0 0.3M859.9 184.1L880.7 157.2M880.7 157.2l10.8 1.8M136.8 190.2L170.2 196.6M170.2 196.6l3.3 10.5M154.4 192.9L188.4 193.9M188.4 193.9l4.9 9.9M184.2 193.8l4.9 9.9M172.4 195.1L206.3 191.7M206.3 191.7l6.1 9.1M202.0 192.1l6.1 9.1M190.3 193.0L224.3 193.9M224.3 193.9l4.9 9.8M208.2 193.1L242.2 193.7M242.2 193.7l5.0 9.8M226.2 191.9L260.0 194.9M260.0 194.9l4.3 10.1M244.3 190.2L277.7 196.7M277.7 196.7l3.2 10.5M262.3 190.0L295.6 196.8M295.6 196.8l3.1 10.6M279.9 194.7L313.8 192.1M313.8 192.1l5.9 9.3M309.6 192.5l5.9 9.3M298.1 190.0L331.4 196.8M331.4 196.8l3.1 10.6M327.3 196.0l3.1 10.6M315.8 195.2L349.6 191.6M349.6 191.6l6.2 9.1M345.4 192.1l6.2 9.1M333.8 191.2L367.5 195.6M367.5 195.6l3.9 10.3M351.7 191.2L385.4 195.7M385.4 195.7l3.8 10.3M373.4 204.3L399.5 182.6M399.5 182.6l10.2 4.2M396.3 185.3l10.2 4.2M398.8 209.5L410.0 177.4M410.0 177.4l10.9 -1.7M416.1 209.2L428.5 177.6M428.5 177.6l10.9 -1.3M428.7 205.9L451.7 180.9M451.7 180.9l10.6 2.8M444.6 203.7L471.7 183.2M471.7 183.2l10.0 4.6M465.0 206.3L487.1 180.5M487.1 180.5l10.7 2.4M488.2 209.4L499.7 177.4M499.7 177.4l10.9 -1.6M503.2 208.0L520.6 178.8M520.6 178.8l11.0 0.5M518.4 182.5l11.0 0.5M516.3 203.8L543.3 183.1M543.3 183.1l10.0 4.6M536.2 205.9L559.3 181.0M559.3 181.0l10.6 2.8M561.1 209.8L570.2 177.0M570.2 177.0l10.7 -2.4M574.9 208.1L592.2 178.8M592.2 178.8l11.0 0.5M590.1 182.4l11.0 0.5M587.8 203.5L615.2 183.4M615.2 183.4l9.9 4.8M610.3 207.8L628.5 179.1M628.5 179.1l11.0 0.8M624.6 204.7L650.0 182.1M650.0 182.1l10.3 3.8M642.3 204.4L668.3 182.5M668.3 182.5l10.2 4.1M660.0 204.2L686.3 182.6M686.3 182.6l10.2 4.2M683.0 185.3l10.2 4.2M683.4 208.6L698.8 178.3M698.8 178.3l11.0 -0.2M696.9 182.1l11.0 -0.2M700.9 208.3L717.2 178.5M717.2 178.5l11.0 0.1M714.2 204.7L739.6 182.1M739.6 182.1l10.3 3.8M736.5 184.9l10.3 3.8M736.1 208.0L753.6 178.9M753.6 178.9l11.0 0.6M751.4 182.5l11.0 0.6M754.3 208.1L771.3 178.7M771.3 178.7l11.0 0.4M769.1 182.4l11.0 0.4M774.1 209.1L787.3 177.8M787.3 177.8l11.0 -1.0M789.6 207.9L807.6 179.0M807.6 179.0l11.0 0.7M806.5 207.1L826.6 179.7M826.6 179.7l10.9 1.6M826.6 208.5L842.3 178.4M842.3 178.4l11.0 -0.1M842.4 207.2L862.4 179.7M862.4 179.7l10.9 1.5M857.0 204.0L883.6 182.8M883.6 182.8l10.1 4.4M138.6 224.4L168.4 208.0M168.4 208.0l9.2 6.0M164.7 210.0l4.6 3.0M156.7 224.7L186.2 207.7M186.2 207.7l9.3 5.9M182.5 209.9l9.3 5.9M172.9 220.5L205.8 211.9M205.8 211.9l7.4 8.1M201.7 213.0l7.4 8.1M191.6 222.9L222.9 209.5M222.9 209.5l8.6 6.9M219.0 211.2l4.3 3.5M209.1 221.7L241.3 210.7M241.3 210.7l8.0 7.5M237.2 212.1l4.0 3.8M226.8 221.1L259.4 211.3M259.4 211.3l7.8 7.8M255.3 212.5l7.8 7.8M244.7 221.1L277.3 211.3M277.3 211.3l7.7 7.8M273.2 212.6l7.7 7.8M262.4 220.1L295.5 212.3M295.5 212.3l7.2 8.3M291.4 213.3l7.2 8.3M280.4 220.6L313.3 211.8M313.3 211.8l7.5 8.0M309.2 212.9l3.8 4.0M298.7 221.8L330.8 210.6M330.8 210.6l8.1 7.5M326.8 212.0l8.1 7.5M316.3 220.7L349.1 211.7M349.1 211.7l7.5 8.0M345.0 212.9l7.5 8.0M334.0 219.7L367.2 212.7M367.2 212.7l7.1 8.4M363.1 213.5l7.1 8.4M352.4 221.4L384.7 211.0M384.7 211.0l7.9 7.7M380.7 212.3l3.9 3.8M369.5 217.0L403.4 215.4M403.4 215.4l5.6 9.4M399.2 215.6l2.8 4.7M387.9 212.1L420.9 220.3M420.9 220.3l2.6 10.7M416.7 219.3l2.6 10.7M405.4 214.3L439.2 218.1M439.2 218.1l4.1 10.2M435.0 217.6l4.1 10.2M423.2 216.7L457.2 215.7M457.2 215.7l5.5 9.5M453.0 215.8l2.7 4.8M441.2 217.7L475.1 214.7M475.1 214.7l6.0 9.2M470.8 215.1l6.0 9.2M459.1 215.0L493.0 217.4M493.0 217.4l4.5 10.0M488.8 217.1l4.5 10.0M477.0 216.2L511.0 216.2M511.0 216.2l5.1 9.7M506.7 216.2l5.1 9.7M495.3 212.5L528.5 219.9M528.5 219.9l2.9 10.6M524.3 219.0l2.9 10.6M512.9 214.5L546.7 217.9M546.7 217.9l4.2 10.2M542.5 217.5l4.2 10.2M530.8 215.4L564.7 217.0M564.7 217.0l4.7 10.0M560.5 216.8l2.3 5.0M551.1 224.9L580.3 207.5M580.3 207.5l9.4 5.7M576.6 209.7l9.4 5.7M570.3 226.8L596.9 205.6M596.9 205.6l10.1 4.4M593.6 208.3l5.0 2.2M586.9 224.8L616.1 207.6M616.1 207.6l9.4 5.7M612.5 209.7l4.7 2.9M606.1 226.7L632.8 205.7M632.8 205.7l10.1 4.4M629.4 208.3l10.1 4.4M623.7 226.3L651.0 206.1M651.0 206.1l9.9 4.7M647.6 208.6l9.9 4.7M640.1 223.9L670.4 208.5M670.4 208.5l9.0 6.3M666.6 210.4l4.5 3.1M658.5 224.7L687.9 207.7M687.9 207.7l9.3 5.8M684.2 209.8l4.7 2.9M676.5 224.9L705.7 207.5M705.7 207.5l9.4 5.7M702.1 209.7l4.7 2.9M694.4 224.9L723.6 207.5M723.6 207.5l9.4 5.7M720.0 209.7l9.4 5.7M710.0 217.1L743.9 215.3M743.9 215.3l5.7 9.4M739.7 215.5l2.8 4.7M728.4 211.9L761.3 220.5M761.3 220.5l2.5 10.7M757.2 219.5l2.5 10.7M745.8 214.7L779.7 217.7M779.7 217.7l4.3 10.1M775.5 217.3l4.3 10.1M763.9 213.4L797.5 219.0M797.5 219.0l3.5 10.4M793.3 218.3l3.5 10.4M781.8 213.5L815.4 218.9M815.4 218.9l3.5 10.4M811.2 218.2l1.8 5.2M799.6 214.5L833.5 217.9M833.5 217.9l4.2 10.2M829.2 217.5l2.1 5.1M817.7 213.1L851.2 219.3M851.2 219.3l3.3 10.5M847.0 218.5l3.3 10.5M835.4 215.1L869.3 217.3M869.3 217.3l4.5 10.0M865.1 217.0l4.5 10.0M853.4 217.5L887.2 214.9M887.2 214.9l5.9 9.3M883.0 215.2l5.9 9.3M137.6 244.9L169.4 233.1M169.4 233.1l8.2 7.3M165.5 234.6l8.2 7.3M154.7 242.0L188.1 235.9M188.1 235.9l6.8 8.6M184.0 236.7l6.8 8.6M172.6 242.0L206.1 235.9M206.1 235.9l6.8 8.6M201.9 236.7l3.4 4.3M190.6 242.6L223.9 235.4M223.9 235.4l7.1 8.4M219.7 236.3l7.1 8.4M210.4 247.3L240.0 230.7M240.0 230.7l9.3 5.9M236.3 232.7l4.6 3.0M227.0 244.4L259.2 233.6M259.2 233.6l8.0 7.6M255.2 234.9l4.0 3.8M244.7 243.9L277.3 234.1M277.3 234.1l7.8 7.8M273.2 235.3l7.8 7.8M262.2 242.0L295.7 236.0M295.7 236.0l6.8 8.6M291.5 236.7l3.4 4.3M280.5 243.4L313.3 234.5M313.3 234.5l7.5 8.0M309.2 235.6l7.5 8.0M298.2 242.6L331.4 235.3M331.4 235.3l7.1 8.4M327.2 236.2l3.6 4.2M316.4 243.9L349.0 234.0M349.0 234.0l7.8 7.8M344.9 235.3l3.9 3.9M334.4 244.0L366.9 234.0M366.9 234.0l7.8 7.8M362.8 235.2l7.8 7.8M352.0 242.9L385.1 235.1M385.1 235.1l7.3 8.3M380.9 236.0l7.3 8.3M370.0 234.9L403.0 243.1M403.0 243.1l2.7 10.7M398.8 242.0l2.7 10.7M387.4 239.1L421.4 238.8M421.4 238.8l5.2 9.7M417.1 238.9l5.2 9.7M405.3 240.2L439.3 237.8M439.3 237.8l5.8 9.3M435.0 238.1l5.8 9.3M423.2 238.3L457.2 239.6M457.2 239.6l4.8 9.9M453.0 239.5l2.4 5.0M441.1 238.6L475.1 239.4M475.1 239.4l4.9 9.8M470.9 239.3l4.9 9.8M459.6 234.8L492.5 243.1M492.5 243.1l2.6 10.7M488.4 242.1l1.3 5.3M477.0 238.4L511.0 239.6M511.0 239.6l4.8 9.9M506.7 239.4l4.8 9.9M494.9 238.3L528.9 239.7M528.9 239.7l4.8 9.9M524.6 239.5l4.8 9.9M512.8 239.6L546.8 238.3M546.8 238.3l5.5 9.5M542.6 238.5l5.5 9.5M530.8 240.0L564.7 237.9M564.7 237.9l5.8 9.4M560.5 238.2l2.9 4.7M551.8 248.9L579.5 229.1M579.5 229.1l9.9 4.9M576.0 231.5l4.9 2.4M568.5 246.9L598.6 231.1M598.6 231.1l9.1 6.2M594.9 233.1l4.5 3.1M586.6 247.1L616.4 230.9M616.4 230.9l9.2 6.1M612.7 232.9l9.2 6.1M605.5 248.8L633.3 229.2M633.3 229.2l9.8 5.0M629.8 231.6l9.8 5.0M622.5 247.3L652.2 230.6M652.2 230.6l9.3 5.9M648.4 232.7l9.3 5.9M641.3 248.7L669.2 229.2M669.2 229.2l9.8 5.0M665.7 231.7l9.8 5.0M657.9 246.4L688.5 231.5M688.5 231.5l8.9 6.5M684.6 233.4l4.4 3.2M674.4 242.3L707.8 235.6M707.8 235.6l7.0 8.5M703.6 236.5l3.5 4.3M693.2 245.3L724.8 232.7M724.8 232.7l8.4 7.1M720.9 234.2l8.4 7.1M710.4 235.1L743.5 242.9M743.5 242.9l2.8 10.6M739.3 241.9l2.8 10.6M727.9 237.3L761.8 240.6M761.8 240.6l4.2 10.2M757.6 240.2l2.1 5.1M746.2 235.4L779.4 242.5M779.4 242.5l3.0 10.6M775.2 241.7l3.0 10.6M764.0 235.8L797.4 242.1M797.4 242.1l3.3 10.5M793.2 241.3l3.3 10.5M781.6 239.7L815.6 238.2M815.6 238.2l5.6 9.5M811.4 238.4l5.6 9.5M799.6 238.3L833.5 239.7M833.5 239.7l4.8 9.9M829.3 239.5l4.8 9.9M817.6 236.8L851.3 241.1M851.3 241.1l3.9 10.3M847.1 240.6l3.9 10.3M835.4 240.0L869.3 237.9M869.3 237.9l5.8 9.4M865.1 238.2l2.9 4.7M853.3 238.2L887.3 239.8M887.3 239.8l4.7 9.9M883.0 239.6l2.4 5.0M137.4 267.2L169.6 256.4M169.6 256.4l8.0 7.6M165.6 257.7l8.0 7.6M156.5 269.8L186.4 253.7M186.4 253.7l9.2 6.1M182.6 255.7l4.6 3.0M173.0 266.3L205.7 257.2M205.7 257.2l7.6 8.0M201.6 258.4l7.6 8.0M192.3 269.8L222.3 253.8M222.3 253.8l9.1 6.1M218.5 255.8l4.6 3.1M208.9 266.5L241.5 257.0M241.5 257.0l7.7 7.9M237.4 258.2l7.7 7.9M227.1 267.4L259.1 256.1M259.1 256.1l8.1 7.4M255.1 257.5l8.1 7.4M245.6 268.9L276.4 254.6M276.4 254.6l8.8 6.6M272.6 256.4l8.8 6.6M262.8 267.2L295.1 256.3M295.1 256.3l8.0 7.6M291.0 257.7l8.0 7.6M281.4 268.8L312.3 254.7M312.3 254.7l8.7 6.7M308.5 256.5l8.7 6.7M298.6 266.8L331.0 256.7M331.0 256.7l7.8 7.7M327.0 258.0l3.9 3.9M316.7 267.5L348.7 256.0M348.7 256.0l8.1 7.4M344.7 257.5l8.1 7.4M334.0 265.5L367.2 258.0M367.2 258.0l7.2 8.3M363.1 259.0l7.2 8.3M352.3 266.7L384.8 256.8M384.8 256.8l7.8 7.8M380.7 258.0l7.8 7.8M369.5 262.4L403.4 261.2M403.4 261.2l5.5 9.5M399.2 261.3l5.5 9.5M387.8 257.9L420.9 265.7M420.9 265.7l2.8 10.6M416.8 264.7l2.8 10.6M405.4 260.4L439.2 263.2M439.2 263.2l4.3 10.1M435.0 262.8l4.3 10.1M423.3 262.8L457.2 260.7M457.2 260.7l5.8 9.4M452.9 261.0l5.8 9.4M441.2 263.1L475.1 260.4M475.1 260.4l5.9 9.3M470.8 260.7l3.0 4.6M459.5 257.8L492.6 265.8M492.6 265.8l2.7 10.7M488.5 264.8l2.7 10.7M477.0 261.0L511.0 262.5M511.0 262.5l4.7 9.9M506.7 262.3l2.4 5.0M494.9 260.7L528.9 262.8M528.9 262.8l4.6 10.0M524.6 262.5l2.3 5.0M512.9 263.0L546.8 260.5M546.8 260.5l5.9 9.3M542.5 260.8l5.9 9.3M530.7 262.2L564.7 261.3M564.7 261.3l5.4 9.6M560.5 261.4l5.4 9.6M549.8 267.8L581.5 255.7M581.5 255.7l8.3 7.2M577.6 257.2l8.3 7.2M568.6 269.8L598.5 253.7M598.5 253.7l9.2 6.1M594.8 255.7l4.6 3.1M586.1 269.0L616.9 254.6M616.9 254.6l8.8 6.6M613.0 256.4l4.4 3.3M605.1 270.9L633.8 252.6M633.8 252.6l9.6 5.4M630.2 254.9l9.6 5.4M622.3 269.7L652.4 253.8M652.4 253.8l9.1 6.2M648.6 255.8l4.6 3.1M642.0 272.5L668.5 251.1M668.5 251.1l10.1 4.3M665.2 253.7l10.1 4.3M656.5 264.8L689.9 258.7M689.9 258.7l6.8 8.6M685.7 259.5l3.4 4.3M675.1 267.4L707.1 256.1M707.1 256.1l8.1 7.4M703.1 257.5l8.1 7.4M692.7 266.6L725.3 256.9M725.3 256.9l7.7 7.8M721.2 258.1l7.7 7.8M710.0 260.7L743.9 262.8M743.9 262.8l4.5 10.0M739.7 262.6l4.5 10.0M728.0 259.8L761.7 263.7M761.7 263.7l4.0 10.2M757.5 263.2l2.0 5.1M746.4 257.4L779.2 266.1M779.2 266.1l2.5 10.7M775.1 265.1l1.2 5.4M763.8 260.1L797.6 263.4M797.6 263.4l4.2 10.2M793.4 263.0l2.1 5.1M782.0 258.4L815.3 265.1M815.3 265.1l3.1 10.5M811.1 264.3l1.6 5.3M799.6 261.1L833.5 262.5M833.5 262.5l4.8 9.9M829.3 262.3l4.8 9.9M817.5 261.0L851.4 262.5M851.4 262.5l4.8 9.9M847.2 262.3l4.8 9.9M835.8 258.2L869.0 265.4M869.0 265.4l3.0 10.6M864.8 264.5l3.0 10.6M853.5 259.4L887.1 264.1M887.1 264.1l3.8 10.3M882.9 263.5l1.9 5.2M137.6 290.6L169.4 278.4M169.4 278.4l8.3 7.2M165.4 280.0l8.3 7.2M154.8 288.0L188.1 281.1M188.1 281.1l7.0 8.4M183.9 281.9l3.5 4.2M172.7 287.9L206.0 281.2M206.0 281.2l7.0 8.5M201.8 282.0l7.0 8.5M190.8 288.8L223.7 280.3M223.7 280.3l7.4 8.1M219.6 281.3l3.7 4.1M208.8 289.0L241.6 280.1M241.6 280.1l7.5 8.0M237.5 281.2l7.5 8.0M228.1 292.5L258.1 276.6M258.1 276.6l9.1 6.2M254.4 278.6l9.1 6.2M245.1 290.4L277.0 278.7M277.0 278.7l8.2 7.4M273.0 280.2l8.2 7.4M262.3 288.0L295.6 281.1M295.6 281.1l7.0 8.5M291.4 281.9l7.0 8.5M280.2 287.9L313.5 281.2M313.5 281.2l7.0 8.5M309.4 282.0l7.0 8.5M299.3 291.6L330.2 277.5M330.2 277.5l8.7 6.7M326.4 279.2l8.7 6.7M317.0 291.0L348.4 278.1M348.4 278.1l8.5 7.0M344.5 279.7l8.5 7.0M334.2 289.1L367.0 280.0M367.0 280.0l7.6 8.0M362.9 281.1l7.6 8.0M352.1 288.7L385.0 280.4M385.0 280.4l7.4 8.2M380.9 281.4l7.4 8.2M369.5 285.4L403.4 283.7M403.4 283.7l5.7 9.4M399.2 283.9l5.7 9.4M387.4 285.0L421.4 284.1M421.4 284.1l5.4 9.6M417.1 284.2l5.4 9.6M405.8 280.3L438.8 288.8M438.8 288.8l2.6 10.7M434.6 287.7l2.6 10.7M423.2 284.8L457.2 284.3M457.2 284.3l5.3 9.6M453.0 284.4l2.7 4.8M441.2 285.3L475.1 283.8M475.1 283.8l5.6 9.5M470.9 284.0l2.8 4.7M459.3 281.9L492.8 287.2M492.8 287.2l3.6 10.4M488.6 286.6l3.6 10.4M477.0 283.3L510.9 285.8M510.9 285.8l4.4 10.1M506.7 285.5l4.4 10.1M494.9 285.1L528.9 284.0M528.9 284.0l5.5 9.5M524.6 284.1l5.5 9.5M512.9 283.3L546.8 285.8M546.8 285.8l4.5 10.1M542.5 285.4l4.5 10.1M531.2 280.8L564.3 288.3M564.3 288.3l2.9 10.6M560.2 287.3l1.5 5.3M550.3 291.9L581.0 277.2M581.0 277.2l8.8 6.5M577.2 279.0l8.8 6.5M567.9 291.1L599.3 278.0M599.3 278.0l8.5 7.0M595.3 279.6l4.3 3.5M586.2 291.9L616.8 277.2M616.8 277.2l8.9 6.5M613.0 279.0l8.9 6.5M604.4 292.4L634.5 276.7M634.5 276.7l9.1 6.2M630.7 278.6l9.1 6.2M621.8 291.4L652.9 277.7M652.9 277.7l8.6 6.8M649.0 279.4l4.3 3.4M642.1 295.3L668.4 273.8M668.4 273.8l10.2 4.2M665.1 276.5l5.1 2.1M657.2 290.2L689.2 278.8M689.2 278.8l8.1 7.4M685.2 280.3l8.1 7.4M675.7 291.6L706.5 277.4M706.5 277.4l8.7 6.7M702.7 279.2l4.4 3.3M692.6 289.1L725.4 280.0M725.4 280.0l7.6 8.0M721.3 281.2l3.8 4.0M710.0 285.3L743.9 283.8M743.9 283.8l5.6 9.5M739.7 284.0l5.6 9.5M727.9 285.7L761.8 283.4M761.8 283.4l5.8 9.3M757.6 283.7l5.8 9.3M746.0 282.1L779.6 287.0M779.6 287.0l3.7 10.4M775.4 286.4l1.8 5.2M764.0 281.3L797.4 287.7M797.4 287.7l3.2 10.5M793.2 286.9l3.2 10.5M781.6 284.5L815.6 284.6M815.6 284.6l5.1 9.7M811.4 284.6l2.6 4.9M799.6 283.0L833.5 286.1M833.5 286.1l4.2 10.1M829.2 285.7l2.1 5.1M817.6 282.4L851.3 286.7M851.3 286.7l3.9 10.3M847.1 286.1l3.9 10.3M835.8 280.9L869.0 288.2M869.0 288.2l3.0 10.6M864.8 287.3l3.0 10.6M853.6 281.1L887.0 288.0M887.0 288.0l3.1 10.6M882.8 287.1l3.1 10.6M137.0 311.6L170.0 303.0M170.0 303.0l7.4 8.1M165.8 304.1l7.4 8.1M155.5 313.2L187.4 301.4M187.4 301.4l8.2 7.3M183.4 302.9l8.2 7.3M173.3 312.9L205.4 301.8M205.4 301.8l8.0 7.5M201.4 303.2l8.0 7.5M192.3 315.4L222.2 299.2M222.2 299.2l9.2 6.1M218.5 301.2l4.6 3.0M210.5 315.8L239.9 298.8M239.9 298.8l9.3 5.8M236.2 300.9l9.3 5.8M227.1 313.2L259.1 301.5M259.1 301.5l8.2 7.3M255.1 302.9l8.2 7.3M245.0 313.0L277.0 301.6M277.0 301.6l8.1 7.4M273.0 303.1l8.1 7.4M262.3 310.6L295.6 304.1M295.6 304.1l6.9 8.6M291.5 304.9l3.5 4.3M281.4 314.3L312.3 300.3M312.3 300.3l8.7 6.7M308.5 302.1l8.7 6.7M299.4 314.5L330.2 300.2M330.2 300.2l8.8 6.6M326.3 302.0l8.8 6.6M316.5 312.4L348.9 302.3M348.9 302.3l7.8 7.7M344.9 303.5l3.9 3.9M334.3 312.1L366.9 302.5M366.9 302.5l7.7 7.8M362.8 303.7l7.7 7.8M353.1 314.4L384.0 300.3M384.0 300.3l8.7 6.7M380.1 302.0l4.4 3.3M369.7 304.7L403.3 310.0M403.3 310.0l3.6 10.4M399.1 309.3l3.6 10.4M387.4 308.5L421.3 306.1M421.3 306.1l5.8 9.3M417.1 306.4l5.8 9.3M405.3 308.0L439.3 306.7M439.3 306.7l5.5 9.5M435.0 306.8l5.5 9.5M423.4 305.0L457.1 309.7M457.1 309.7l3.8 10.3M452.8 309.1l3.8 10.3M441.2 308.5L475.1 306.2M475.1 306.2l5.8 9.3M470.9 306.5l5.8 9.3M459.1 308.2L493.0 306.5M493.0 306.5l5.6 9.4M488.8 306.7l2.8 4.7M477.0 308.5L510.9 306.2M510.9 306.2l5.8 9.3M506.7 306.5l5.8 9.3M494.9 307.3L528.9 307.3M528.9 307.3l5.2 9.7M524.6 307.3l2.6 4.9M512.8 307.3L546.8 307.3M546.8 307.3l5.2 9.7M542.6 307.3l2.6 4.9M531.1 303.9L564.4 310.7M564.4 310.7l3.1 10.5M560.2 309.9l3.1 10.5M552.0 317.5L579.3 297.2M579.3 297.2l9.9 4.7M575.9 299.7l9.9 4.7M569.5 316.8L597.7 297.9M597.7 297.9l9.7 5.2M594.2 300.2l9.7 5.2M588.5 318.2L614.5 296.4M614.5 296.4l10.2 4.1M611.3 299.1l10.2 4.1M605.9 317.6L632.9 297.0M632.9 297.0l10.0 4.6M629.6 299.6l10.0 4.6M621.8 314.2L652.9 300.4M652.9 300.4l8.7 6.8M649.0 302.1l4.3 3.4M642.2 318.1L668.4 296.5M668.4 296.5l10.2 4.2M665.1 299.2l10.2 4.2M657.8 314.5L688.6 300.1M688.6 300.1l8.8 6.6M684.7 301.9l8.8 6.6M675.1 313.1L707.1 301.5M707.1 301.5l8.2 7.4M703.1 303.0l8.2 7.4M693.8 315.0L724.2 299.7M724.2 299.7l9.0 6.3M720.4 301.6l9.0 6.3M710.0 306.3L743.9 308.3M743.9 308.3l4.6 10.0M739.7 308.1l4.6 10.0M728.0 305.4L761.8 309.2M761.8 309.2l4.0 10.2M757.5 308.7l4.0 10.2M745.9 305.1L779.6 309.6M779.6 309.6l3.8 10.3M775.4 309.0l3.8 10.3M764.0 304.0L797.4 310.7M797.4 310.7l3.1 10.5M793.2 309.8l3.1 10.5M782.2 303.0L815.1 311.6M815.1 311.6l2.6 10.7M811.0 310.5l1.3 5.3M799.5 306.8L833.5 307.8M833.5 307.8l4.9 9.9M829.3 307.7l2.4 4.9M817.5 305.8L851.4 308.9M851.4 308.9l4.3 10.1M847.2 308.5l2.1 5.1M835.4 308.3L869.4 306.4M869.4 306.4l5.7 9.4M865.1 306.6l5.7 9.4M853.6 304.3L887.0 310.3M887.0 310.3l3.4 10.5M882.9 309.6l1.7 5.2M137.8 336.7L169.2 323.5M169.2 323.5l8.5 6.9M165.2 325.1l8.5 6.9M155.2 335.1L187.7 325.1M187.7 325.1l7.8 7.8M183.6 326.3l7.8 7.8M172.7 333.7L205.9 326.5M205.9 326.5l7.1 8.4M201.8 327.4l7.1 8.4M190.4 332.5L224.1 327.7M224.1 327.7l6.5 8.9M219.9 328.3l6.5 8.9M208.4 332.6L242.0 327.6M242.0 327.6l6.6 8.8M237.8 328.2l6.6 8.8M226.4 333.2L259.8 327.0M259.8 327.0l6.8 8.6M255.6 327.8l3.4 4.3M244.2 332.9L277.8 327.3M277.8 327.3l6.7 8.7M273.6 328.0l3.3 4.4M263.5 337.2L294.4 323.0M294.4 323.0l8.8 6.7M290.5 324.8l8.8 6.7M280.9 336.0L312.8 324.2M312.8 324.2l8.2 7.3M308.8 325.7l4.1 3.7M298.0 332.8L331.6 327.4M331.6 327.4l6.7 8.8M327.4 328.0l6.7 8.8M317.0 336.6L348.4 323.6M348.4 323.6l8.5 7.0M344.5 325.2l4.2 3.5M333.9 333.3L367.3 326.9M367.3 326.9l6.9 8.5M363.1 327.7l3.5 4.3M353.1 337.2L384.0 323.0M384.0 323.0l8.7 6.7M380.1 324.8l8.7 6.7M370.9 337.0L402.0 323.2M402.0 323.2l8.6 6.8M398.1 325.0l4.3 3.4M387.5 332.0L421.3 328.2M421.3 328.2l6.2 9.1M417.0 328.7l6.2 9.1M406.2 335.5L438.4 324.7M438.4 324.7l8.0 7.6M434.4 326.0l8.0 7.6M423.3 331.2L457.2 329.0M457.2 329.0l5.8 9.4M452.9 329.3l2.9 4.7M441.3 332.1L475.0 328.1M475.0 328.1l6.2 9.1M470.8 328.6l6.2 9.1M459.5 333.7L492.7 326.5M492.7 326.5l7.1 8.4M488.5 327.4l7.1 8.4M477.8 335.3L510.2 324.9M510.2 324.9l7.9 7.7M506.1 326.2l7.9 7.7M495.0 332.1L528.8 328.1M528.8 328.1l6.3 9.0M524.6 328.6l3.1 4.5M512.8 330.2L546.8 330.0M546.8 330.0l5.2 9.7M542.6 330.1l5.2 9.7M531.2 334.2L564.2 326.0M564.2 326.0l7.4 8.2M560.1 327.0l3.7 4.1M549.0 333.3L582.3 326.9M582.3 326.9l6.9 8.6M578.2 327.7l6.9 8.6M567.1 334.1L600.1 326.1M600.1 326.1l7.3 8.2M596.0 327.1l3.6 4.1M584.5 330.9L618.5 329.3M618.5 329.3l5.6 9.5M614.2 329.5l2.8 4.7M602.5 331.7L636.3 328.5M636.3 328.5l6.0 9.2M632.1 328.9l6.0 9.2M621.2 335.5L653.4 324.7M653.4 324.7l8.0 7.5M649.4 326.0l8.0 7.5M639.4 336.2L671.1 324.0M671.1 324.0l8.3 7.2M667.2 325.5l4.2 3.6M657.1 335.6L689.3 324.6M689.3 324.6l8.0 7.5M685.2 326.0l8.0 7.5M674.8 334.9L707.4 325.3M707.4 325.3l7.7 7.9M703.3 326.5l3.8 3.9M693.2 336.4L724.8 323.8M724.8 323.8l8.4 7.1M720.9 325.4l8.4 7.1M710.5 334.4L743.4 325.8M743.4 325.8l7.5 8.1M739.3 326.9l7.5 8.1M729.8 338.0L759.9 322.2M759.9 322.2l9.1 6.2M756.1 324.2l9.1 6.2M746.9 336.1L778.7 324.1M778.7 324.1l8.3 7.2M774.7 325.6l8.3 7.2M764.3 334.7L797.1 325.5M797.1 325.5l7.6 8.0M793.0 326.7l7.6 8.0M782.1 334.2L815.1 326.0M815.1 326.0l7.4 8.2M811.0 327.0l3.7 4.1M800.5 335.7L832.6 324.5M832.6 324.5l8.1 7.5M828.6 325.9l8.1 7.5M817.8 333.7L851.1 326.5M851.1 326.5l7.1 8.4M846.9 327.4l3.6 4.2M836.4 335.9L868.4 324.3M868.4 324.3l8.2 7.4M864.4 325.7l8.2 7.4M854.0 334.9L886.6 325.3M886.6 325.3l7.7 7.9M882.5 326.5l7.7 7.9M137.7 359.1L169.3 346.6M169.3 346.6l8.4 7.1M165.4 348.2l4.2 3.6M154.8 356.5L188.0 349.3M188.0 349.3l7.1 8.4M183.9 350.2l3.6 4.2M172.7 356.5L205.9 349.2M205.9 349.2l7.1 8.4M201.8 350.2l3.6 4.2M191.7 359.8L222.8 345.9M222.8 345.9l8.7 6.8M218.9 347.7l4.3 3.4M208.7 356.9L241.7 348.9M241.7 348.9l7.3 8.2M237.6 349.9l3.6 4.1M227.0 358.4L259.2 347.4M259.2 347.4l8.0 7.5M255.2 348.8l4.0 3.8M244.2 355.3L277.9 350.5M277.9 350.5l6.5 8.9M273.6 351.1l6.5 8.9M262.1 355.4L295.7 350.3M295.7 350.3l6.6 8.8M291.5 351.0l6.6 8.8M281.0 358.9L312.8 346.9M312.8 346.9l8.3 7.3M308.8 348.4l4.1 3.6M298.2 356.8L331.3 348.9M331.3 348.9l7.3 8.2M327.2 349.9l7.3 8.2M315.8 355.1L349.6 350.7M349.6 350.7l6.4 9.0M345.3 351.2l6.4 9.0M334.4 357.8L366.9 348.0M366.9 348.0l7.8 7.8M362.8 349.2l3.9 3.9M352.4 358.3L384.6 347.4M384.6 347.4l8.0 7.6M380.6 348.8l8.0 7.6M370.5 358.7L402.4 347.1M402.4 347.1l8.2 7.4M398.5 348.5l8.2 7.4M387.7 356.0L421.1 349.8M421.1 349.8l6.8 8.6M416.9 350.6l6.8 8.6M406.4 358.8L438.2 347.0M438.2 347.0l8.2 7.3M434.3 348.5l4.1 3.7M426.5 362.9L454.0 342.9M454.0 342.9l9.9 4.8M450.5 345.4l9.9 4.8M445.1 363.8L471.2 342.0M471.2 342.0l10.2 4.1M467.9 344.7l5.1 2.1M463.3 364.1L488.8 341.6M488.8 341.6l10.3 3.9M485.6 344.5l10.3 3.9M481.5 364.4L506.5 341.3M506.5 341.3l10.4 3.6M503.3 344.2l10.4 3.6M498.2 363.0L525.6 342.8M525.6 342.8l9.9 4.7M522.1 345.3l5.0 2.4M516.0 362.8L543.6 343.0M543.6 343.0l9.9 4.9M540.2 345.4l9.9 4.9M534.9 364.0L560.6 341.8M560.6 341.8l10.3 4.0M557.4 344.5l10.3 4.0M552.6 363.8L578.7 342.0M578.7 342.0l10.2 4.2M575.5 344.7l10.2 4.2M569.2 362.0L597.9 343.8M597.9 343.8l9.6 5.4M594.3 346.1l9.6 5.4M590.1 365.5L612.9 340.3M612.9 340.3l10.7 2.7M610.0 343.4l10.7 2.7M607.6 365.1L631.2 340.6M631.2 340.6l10.6 3.0M628.3 343.7l10.6 3.0M623.3 362.5L651.4 343.3M651.4 343.3l9.7 5.1M647.9 345.7l9.7 5.1M639.6 359.4L671.0 346.4M671.0 346.4l8.5 7.0M667.0 348.0l4.2 3.5M657.9 360.3L688.5 345.5M688.5 345.5l8.9 6.5M684.7 347.3l8.9 6.5M675.6 359.8L706.6 346.0M706.6 346.0l8.7 6.8M702.7 347.7l8.7 6.8M692.3 355.9L725.7 349.9M725.7 349.9l6.8 8.6M721.6 350.6l6.8 8.6M711.1 359.1L742.7 346.6M742.7 346.6l8.4 7.1M738.8 348.2l8.4 7.1M729.5 360.2L760.2 345.6M760.2 345.6l8.8 6.6M756.4 347.4l8.8 6.6M747.9 361.1L777.7 344.7M777.7 344.7l9.2 6.0M774.0 346.7l9.2 6.0M764.5 358.0L796.9 347.8M796.9 347.8l7.8 7.7M792.9 349.1l3.9 3.9M783.3 360.2L814.0 345.6M814.0 345.6l8.8 6.5M810.1 347.4l4.4 3.3M801.3 360.4L831.8 345.3M831.8 345.3l8.9 6.4M828.0 347.2l8.9 6.4M818.1 357.6L850.8 348.1M850.8 348.1l7.7 7.9M846.7 349.3l3.8 3.9M836.8 359.7L867.9 346.0M867.9 346.0l8.6 6.8M864.0 347.7l4.3 3.4M853.9 357.4L886.7 348.4M886.7 348.4l7.5 8.0M882.6 349.5l7.5 8.0M136.5 376.4L170.5 374.9M170.5 374.9l5.6 9.5M166.2 375.1l2.8 4.7M154.5 374.3L188.4 377.0M188.4 377.0l4.4 10.1M172.6 372.7L206.1 378.6M206.1 378.6l3.4 10.5M201.9 377.8l1.7 5.2M190.4 373.9L224.2 377.4M224.2 377.4l4.1 10.2M219.9 377.0l4.1 10.2M208.3 373.8L242.1 377.5M242.1 377.5l4.1 10.2M226.2 373.6L260.0 377.7M260.0 377.7l4.0 10.3M244.0 376.1L278.0 375.2M278.0 375.2l5.4 9.6M261.9 375.4L295.9 375.9M295.9 375.9l5.0 9.8M291.7 375.9l2.5 4.9M282.5 384.8L311.2 366.5M311.2 366.5l9.6 5.4M307.6 368.8l4.8 2.7M301.5 386.2L328.1 365.1M328.1 365.1l10.1 4.4M324.8 367.7l5.0 2.2M319.3 386.1L346.1 365.2M346.1 365.2l10.0 4.5M342.7 367.8l5.0 2.2M336.9 385.7L364.3 365.6M364.3 365.6l9.9 4.8M357.6 388.7L379.5 362.7M379.5 362.7l10.8 2.3M376.7 365.9l5.4 1.1M373.9 387.1L399.0 364.2M399.0 364.2l10.4 3.7M392.5 387.8L416.3 363.5M416.3 363.5l10.5 3.1M413.3 366.6l5.3 1.6M408.0 384.9L436.6 366.4M436.6 366.4l9.6 5.4M426.4 385.5L454.1 365.8M454.1 365.8l9.8 4.9M450.6 368.3l4.9 2.5M444.3 385.5L472.0 365.8M472.0 365.8l9.8 4.9M468.5 368.3l4.9 2.5M462.5 386.0L489.6 365.4M489.6 365.4l10.0 4.6M486.2 367.9l5.0 2.3M480.9 386.5L507.1 364.8M507.1 364.8l10.2 4.2M499.1 386.9L524.7 364.5M524.7 364.5l10.3 3.9M518.4 388.3L541.2 363.0M541.2 363.0l10.7 2.7M536.1 388.1L559.4 363.3M559.4 363.3l10.6 2.9M553.5 387.5L577.8 363.8M577.8 363.8l10.5 3.3M574.8 366.7l5.2 1.7M570.7 386.8L596.4 364.5M596.4 364.5l10.3 4.0M593.2 367.3l10.3 4.0M588.0 386.0L615.0 365.4M615.0 365.4l10.0 4.6M611.6 367.9l5.0 2.3M607.4 387.7L631.4 363.6M631.4 363.6l10.5 3.2M628.4 366.6l10.5 3.2M623.4 385.4L651.3 365.9M651.3 365.9l9.8 5.0M647.8 368.3l9.8 5.0M641.9 386.2L668.6 365.1M668.6 365.1l10.1 4.4M665.3 367.7l10.1 4.4M659.6 385.9L686.7 365.4M686.7 365.4l10.0 4.6M683.3 368.0l5.0 2.3M678.8 387.4L703.4 363.9M703.4 363.9l10.4 3.5M700.3 366.8l5.2 1.7M697.1 387.8L720.9 363.5M720.9 363.5l10.6 3.1M717.9 366.6l5.3 1.6M715.4 388.1L738.5 363.2M738.5 363.2l10.6 2.8M735.6 366.3l10.6 2.8M730.3 384.4L759.4 366.9M759.4 366.9l9.4 5.7M755.8 369.1l9.4 5.7M750.7 387.6L774.9 363.7M774.9 363.7l10.5 3.3M767.2 386.0L794.2 365.3M794.2 365.3l10.0 4.6M784.0 384.3L813.3 367.0M813.3 367.0l9.4 5.7M809.6 369.2l4.7 2.9M804.3 387.4L828.8 363.9M828.8 363.9l10.5 3.4M825.7 366.8l5.2 1.7M822.2 387.4L846.7 363.9M846.7 363.9l10.4 3.4M839.9 387.2L864.8 364.1M864.8 364.1l10.4 3.6M861.7 367.0l10.4 3.6M857.5 386.8L883.1 364.5M883.1 364.5l10.3 4.0M138.9 407.2L168.1 389.7M168.1 389.7l9.4 5.6M164.4 391.8l9.4 5.6M157.1 407.7L185.7 389.2M185.7 389.2l9.6 5.4M182.1 391.5l9.6 5.4M174.2 406.2L204.5 390.7M204.5 390.7l9.0 6.3M200.7 392.6l4.5 3.1M192.3 406.5L222.2 390.4M222.2 390.4l9.2 6.1M208.9 403.3L241.5 393.6M241.5 393.6l7.7 7.8M237.4 394.8l3.9 3.9M228.7 407.5L257.5 389.4M257.5 389.4l9.5 5.5M253.9 391.7l4.8 2.7M244.9 403.8L277.1 393.1M277.1 393.1l8.0 7.6M264.7 407.7L293.2 389.2M293.2 389.2l9.6 5.3M289.6 391.5l4.8 2.7M285.4 411.0L308.3 385.9M308.3 385.9l10.7 2.7M305.5 389.0l10.7 2.7M302.2 409.9L327.3 387.0M327.3 387.0l10.4 3.7M324.2 389.8l5.2 1.8M319.6 409.3L345.8 387.6M345.8 387.6l10.2 4.2M342.5 390.3l5.1 2.1M338.8 410.7L362.4 386.2M362.4 386.2l10.6 3.0M359.5 389.3l5.3 1.5M355.4 409.2L381.7 387.7M381.7 387.7l10.2 4.2M378.4 390.4l5.1 2.1M373.5 409.4L399.4 387.5M399.4 387.5l10.2 4.1M396.2 390.2l10.2 4.1M392.9 411.0L415.9 385.9M415.9 385.9l10.7 2.7M413.0 389.0l5.3 1.4M409.0 409.1L435.6 387.8M435.6 387.8l10.1 4.3M432.2 390.5l10.1 4.3M430.1 412.1L450.4 384.8M450.4 384.8l10.9 1.6M447.8 388.2l10.9 1.6M464.1 410.5L488.0 386.4M488.0 386.4l10.5 3.2M483.4 411.8L504.6 385.1M504.6 385.1l10.8 2.0M499.3 409.9L524.5 387.0M524.5 387.0l10.3 3.7M521.4 389.9l10.3 3.7M516.6 409.1L543.0 387.8M543.0 387.8l10.1 4.3M539.7 390.4l5.1 2.2M533.8 408.2L561.6 388.6M561.6 388.6l9.8 5.0M558.2 391.1l9.8 5.0M554.1 410.9L577.2 386.0M577.2 386.0l10.6 2.8M570.5 409.3L596.7 387.6M596.7 387.6l10.2 4.2M590.7 411.6L612.3 385.3M612.3 385.3l10.8 2.2M609.6 388.6l10.8 2.2M607.2 410.3L631.6 386.6M631.6 386.6l10.5 3.4M624.2 409.2L650.5 387.7M650.5 387.7l10.1 4.2M644.1 411.3L666.4 385.6M666.4 385.6l10.7 2.5M660.6 409.9L685.8 387.0M685.8 387.0l10.4 3.7M679.5 410.8L702.7 386.0M702.7 386.0l10.6 2.9M699.8 389.1l5.3 1.4M697.1 410.6L720.9 386.3M720.9 386.3l10.5 3.1M718.0 389.3l10.5 3.1M716.1 411.5L737.8 385.4M737.8 385.4l10.8 2.2M735.1 388.6l5.4 1.1M733.4 411.0L756.3 385.8M756.3 385.8l10.7 2.7M753.4 389.0l10.7 2.7M752.8 412.2L772.7 384.6M772.7 384.6l10.9 1.5M770.2 388.1l5.4 0.7M767.7 409.4L793.7 387.5M793.7 387.5l10.2 4.1M790.4 390.2l10.2 4.1M787.5 411.3L809.8 385.6M809.8 385.6l10.7 2.5M807.0 388.8l5.4 1.2M804.2 410.1L828.9 386.8M828.9 386.8l10.4 3.5M822.5 410.5L846.4 386.4M846.4 386.4l10.5 3.2M843.4 389.4l5.3 1.6M841.1 411.2L863.6 385.7M863.6 385.7l10.7 2.6M860.8 388.9l10.7 2.6M857.3 409.4L883.3 387.5M883.3 387.5l10.2 4.1M880.0 390.2l5.1 2.0M140.9 432.6L166.1 409.9M166.1 409.9l10.3 3.8M163.0 412.7l5.2 1.9M157.5 430.9L185.4 411.5M185.4 411.5l9.8 5.0M181.9 413.9l4.9 2.5M176.4 432.3L202.3 410.2M202.3 410.2l10.2 4.0M193.7 431.4L220.8 411.0M220.8 411.0l10.0 4.7M217.5 413.6l10.0 4.7M210.8 430.2L239.6 412.2M239.6 412.2l9.5 5.5M230.1 432.2L256.1 410.2M256.1 410.2l10.2 4.1M252.8 413.0l10.2 4.1M247.9 432.1L274.1 410.4M274.1 410.4l10.2 4.2M270.8 413.1l10.2 4.2M267.2 433.5L290.7 408.9M290.7 408.9l10.6 3.0M287.8 412.0l10.6 3.0M283.0 431.1L310.7 411.4M310.7 411.4l9.8 4.9M301.2 431.5L328.3 411.0M328.3 411.0l10.0 4.6M324.9 413.5l5.0 2.3M321.2 433.8L344.2 408.7M344.2 408.7l10.7 2.7M341.3 411.8l10.7 2.7M337.5 432.1L363.7 410.3M363.7 410.3l10.2 4.2M360.4 413.1l5.1 2.1M355.6 432.2L381.5 410.3M381.5 410.3l10.2 4.1M378.3 413.0l10.2 4.1M373.9 432.6L399.0 409.8M399.0 409.8l10.4 3.7M395.9 412.6l10.4 3.7M393.6 434.4L415.2 408.1M415.2 408.1l10.8 2.2M412.4 435.0L432.2 407.4M432.2 407.4l10.9 1.5M427.3 432.3L453.1 410.2M453.1 410.2l10.2 4.0M449.9 412.9l10.2 4.0M445.2 432.3L471.1 410.2M471.1 410.2l10.2 4.0M467.8 412.9l5.1 2.0M466.0 434.9L486.1 407.5M486.1 407.5l10.9 1.6M483.6 410.9l5.4 0.8M483.3 434.4L504.7 408.0M504.7 408.0l10.8 2.1M499.9 433.3L523.9 409.2M523.9 409.2l10.5 3.2M520.9 412.2l5.3 1.6M517.4 432.8L542.3 409.6M542.3 409.6l10.4 3.6M536.4 433.9L559.1 408.6M559.1 408.6l10.7 2.6M551.7 431.0L579.6 411.5M579.6 411.5l9.8 5.0M571.9 433.6L595.2 408.8M595.2 408.8l10.6 2.9M592.3 411.9l10.6 2.9M589.3 433.0L613.7 409.4M613.7 409.4l10.5 3.4M610.7 412.4l5.2 1.7M606.9 432.7L631.9 409.7M631.9 409.7l10.4 3.6M626.1 433.9L648.6 408.5M648.6 408.5l10.7 2.6M645.8 411.7l5.3 1.3M641.4 431.1L669.1 411.3M669.1 411.3l9.9 4.9M663.2 435.0L683.2 407.5M683.2 407.5l10.9 1.5M679.9 434.0L702.3 408.4M702.3 408.4l10.7 2.5M699.5 411.6l5.4 1.3M695.5 431.5L722.5 410.9M722.5 410.9l10.0 4.6M719.2 413.5l5.0 2.3M714.1 432.3L739.8 410.1M739.8 410.1l10.3 4.0M736.6 412.9l5.1 2.0M735.0 435.1L754.7 407.4M754.7 407.4l10.9 1.4M752.5 434.7L773.1 407.7M773.1 407.7l10.9 1.8M770.5 411.1l5.4 0.9M767.4 431.8L794.0 410.6M794.0 410.6l10.1 4.4M787.5 434.1L809.7 408.3M809.7 408.3l10.7 2.4M806.9 411.6l10.7 2.4M802.7 431.1L830.4 411.3M830.4 411.3l9.8 4.9M826.9 413.8l9.8 4.9M821.7 432.4L847.3 410.0M847.3 410.0l10.3 3.9M841.4 434.2L863.4 408.3M863.4 408.3l10.7 2.3M860.6 411.5l5.4 1.2M857.2 432.0L883.4 410.4M883.4 410.4l10.2 4.2M880.1 413.1l5.1 2.1M162.6 429.6L144.4 458.4M144.4 458.4l-5.5 -0.4M178.1 428.4L164.7 459.6M164.7 459.6l-11.0 0.9M200.2 430.9L178.5 457.1M178.5 457.1l-5.4 -1.1M216.1 429.5L198.4 458.5M198.4 458.5l-11.0 -0.7M232.9 428.9L217.5 459.1M217.5 459.1l-5.5 0.1M250.1 428.5L236.1 459.5M236.1 459.5l-11.0 0.7M271.8 430.8L250.3 457.2M250.3 457.2l-10.8 -2.1M289.7 430.9L268.2 457.1M268.2 457.1l-5.4 -1.1M306.3 429.9L287.4 458.1M287.4 458.1l-5.5 -0.6M324.7 430.2L304.9 457.8M304.9 457.8l-10.9 -1.5M342.2 429.9L323.2 458.1M323.2 458.1l-5.5 -0.6M358.5 428.9L342.8 459.1M342.8 459.1l-5.5 0.0M376.6 429.0L360.5 459.0M360.5 459.0l-5.5 -0.0M401.0 435.2L371.9 452.8M371.9 452.8l-9.4 -5.7M416.9 432.5L391.8 455.5M391.8 455.5l-10.4 -3.7M437.5 436.4L407.1 451.6M407.1 451.6l-9.0 -6.4M452.8 432.5L427.7 455.5M427.7 455.5l-5.2 -1.8M472.7 435.2L443.6 452.8M443.6 452.8l-9.5 -5.6M490.8 435.6L461.3 452.4M461.3 452.4l-9.3 -5.9M506.2 432.1L481.8 455.9M481.8 455.9l-10.5 -3.4M527.1 436.4L496.7 451.6M496.7 451.6l-9.0 -6.4M543.7 434.2L515.9 453.8M515.9 453.8l-4.9 -2.5M561.2 433.6L534.3 454.4M534.3 454.4l-5.0 -2.3M579.3 433.8L552.1 454.2M552.1 454.2l-10.0 -4.7M596.2 432.6L571.0 455.4M571.0 455.4l-5.2 -1.9M615.5 434.4L587.5 453.6M587.5 453.6l-4.9 -2.5M633.3 434.2L605.5 453.8M605.5 453.8l-9.8 -5.0M651.0 433.9L623.7 454.1M623.7 454.1l-9.9 -4.8M668.7 433.6L641.8 454.4M641.8 454.4l-10.0 -4.5M687.3 434.5L659.1 453.5M659.1 453.5l-9.7 -5.1M703.2 432.1L679.0 455.9M679.0 455.9l-10.5 -3.3M723.4 434.9L694.7 453.1M694.7 453.1l-4.8 -2.7M739.3 432.3L714.6 455.7M714.6 455.7l-10.4 -3.5M757.0 432.1L732.7 455.9M732.7 455.9l-5.2 -1.7M777.5 435.5L748.0 452.5M748.0 452.5l-9.3 -5.9M795.6 435.7L765.8 452.3M765.8 452.3l-4.6 -3.0M813.6 436.0L783.6 452.0M783.6 452.0l-4.6 -3.1M823.8 428.6L809.3 459.4M809.3 459.4l-5.5 0.3M838.3 427.4L830.6 460.6M830.6 460.6l-10.6 2.8M858.9 428.3L845.9 459.7M845.9 459.7l-10.9 1.1M876.1 428.0L864.5 460.0M864.5 460.0l-10.9 1.5M164.1 453.5L142.9 480.1M142.9 480.1l-10.8 -2.0M181.2 452.9L161.6 480.7M161.6 480.7l-10.9 -1.4M198.0 452.1L180.7 481.4M180.7 481.4l-5.5 -0.2M214.1 451.2L200.4 482.3M200.4 482.3l-5.5 0.4M232.7 451.5L217.6 482.0M217.6 482.0l-11.0 0.3M251.8 452.2L234.4 481.4M234.4 481.4l-11.0 -0.5M268.1 451.3L253.9 482.2M253.9 482.2l-11.0 0.6M287.0 451.8L270.9 481.8M270.9 481.8l-11.0 -0.0M304.1 451.4L289.6 482.2M289.6 482.2l-5.5 0.3M324.0 452.5L305.5 481.0M305.5 481.0l-5.5 -0.5M342.4 452.8L323.0 480.8M323.0 480.8l-5.5 -0.6M358.1 451.5L343.1 482.0M343.1 482.0l-11.0 0.3M375.7 451.3L361.4 482.2M361.4 482.2l-5.5 0.3M399.9 456.4L373.0 477.2M373.0 477.2l-10.0 -4.5M418.7 457.6L390.1 476.0M390.1 476.0l-9.6 -5.4M437.6 459.3L407.0 474.2M407.0 474.2l-8.9 -6.5M453.7 456.4L426.7 477.1M426.7 477.1l-10.0 -4.6M473.5 459.5L442.8 474.1M442.8 474.1l-4.4 -3.3M489.4 456.2L462.7 477.3M462.7 477.3l-5.0 -2.2M507.9 457.0L480.1 476.6M480.1 476.6l-9.8 -4.9M524.0 454.8L499.8 478.7M499.8 478.7l-10.5 -3.3M542.6 455.6L517.0 478.0M517.0 478.0l-10.3 -3.9M562.0 457.5L533.5 476.1M533.5 476.1l-9.6 -5.3M578.4 455.6L552.9 478.0M552.9 478.0l-10.3 -3.9M596.2 455.4L570.9 478.1M570.9 478.1l-5.2 -1.9M615.0 456.4L588.0 477.1M588.0 477.1l-10.0 -4.5M632.3 455.6L606.6 477.9M606.6 477.9l-5.1 -2.0M650.9 456.6L623.8 477.0M623.8 477.0l-5.0 -2.3M669.9 458.1L640.6 475.5M640.6 475.5l-9.4 -5.7M688.0 458.5L658.3 475.1M658.3 475.1l-4.6 -3.0M705.9 458.4L676.3 475.1M676.3 475.1l-4.6 -3.0M723.4 457.8L694.6 475.8M694.6 475.8l-4.8 -2.8M739.0 454.8L714.9 478.8M714.9 478.8l-10.5 -3.2M759.5 458.1L730.2 475.5M730.2 475.5l-4.7 -2.9M778.1 459.4L747.4 474.1M747.4 474.1l-4.4 -3.3M793.7 455.8L767.7 477.7M767.7 477.7l-5.1 -2.0M812.8 457.4L784.4 476.2M784.4 476.2l-9.7 -5.2M822.7 450.9L810.4 482.6M810.4 482.6l-10.9 1.3M840.5 450.9L828.4 482.7M828.4 482.7l-5.5 0.7M857.0 450.4L847.8 483.1M847.8 483.1l-10.8 2.3M875.0 450.5L865.6 483.1M865.6 483.1l-10.8 2.2M178.1 473.9L164.8 505.2M164.8 505.2l-5.5 0.5M200.2 476.5L178.4 502.6M178.4 502.6l-10.8 -2.3M217.2 475.8L197.3 503.3M197.3 503.3l-5.4 -0.8M340.6 474.5L324.8 504.6M324.8 504.6l-11.0 0.1M361.9 476.8L339.4 502.3M339.4 502.3l-10.7 -2.6M437.4 481.8L407.2 497.3M407.2 497.3l-4.5 -3.2M507.0 478.6L481.0 500.5M481.0 500.5l-5.1 -2.1M524.9 478.6L498.9 500.5M498.9 500.5l-5.1 -2.0M795.4 481.1L766.0 498.0M766.0 498.0l-4.7 -2.9M841.7 474.2L827.2 504.9M827.2 504.9l-11.0 0.5"/><circle cx="457.9" cy="398" r="4" />
</g>
<g transform="translate(170.6,135.3) rotate(-30)"><rect x="-7.5" y="-7" width="15" height="14" fill="#fff"/><text transform="scale(0.8,1)" x="0" y="5" font-size="14" text-anchor="middle">30</text></g>
<g transform="translate(294.4,124.3) rotate(-60)"><rect x="-7.5" y="-7" width="15" height="14" fill="#fff"/><text transform="scale(0.8,1)" x="0" y="5" font-size="14" text-anchor="middle">50</text></g>
<g transform="translate(350.1,168.2) rotate(15)"><rect x="-7.5" y="-7" width="15" height="14" fill="#fff"/><text transform="scale(0.8,1)" x="0" y="5" font-size="14" text-anchor="middle">70</text></g>
<g transform="translate(259.7,179.2) rotate(45)"><rect x="-7.5" y="-7" width="15" height="14" fill="#fff"/><text transform="scale(0.8,1)" x="0" y="5" font-size="14" text-anchor="middle">30</text></g>
<g transform="translate(235.3,215.8) rotate(-60)"><rect x="-7.5" y="-7" width="15" height="14" fill="#fff"/><text transform="scale(0.8,1)" x="0" y="5" font-size="14" text-anchor="middle">30</text></g>
<g transform="translate(315.9,253.7) rotate(0)"><rect x="-7.5" y="-7" width="15" height="14" fill="#fff"/><text transform="scale(0.8,1)" x="0" y="5" font-size="14" text-anchor="middle">50</text></g>
<g transform="translate(369.6,270.8) rotate(-60)"><rect x="-7.5" y="-7" width="15" height="14" fill="#fff"/><text transform="scale(0.8,1)" x="0" y="5" font-size="14" text-anchor="middle">50</text></g>
<g transform="translate(250.0,285.4) rotate(60)"><rect x="-7.5" y="-7" width="15" height="14" fill="#fff"/><text transform="scale(0.8,1)" x="0" y="5" font-size="14" text-anchor="middle">30</text></g>
<g transform="translate(296.4,295.2) rotate(-45)"><rect x="-7.5" y="-7" width="15" height="14" fill="#fff"/><text transform="scale(0.8,1)" x="0" y="5" font-size="14" text-anchor="middle">50</text></g>
<g transform="translate(261.0,328.0) rotate(30)"><rect x="-7.5" y="-7" width="15" height="14" fill="#fff"/><text transform="scale(0.8,1)" x="0" y="5" font-size="14" text-anchor="middle">50</text></g>
<g transform="translate(189.0,347.5) rotate(-40)"><rect x="-7.5" y="-7" width="15" height="14" fill="#fff"/><text transform="scale(0.8,1)" x="0" y="5" font-size="14" text-anchor="middle">50</text></g>
<g transform="translate(279.3,365.8) rotate(0)"><rect x="-7.5" y="-7" width="15" height="14" fill="#fff"/><text transform="scale(0.8,1)" x="0" y="5" font-size="14" text-anchor="middle">70</text></g>
<g transform="translate(326.9,352.4) rotate(75)"><rect x="-7.5" y="-7" width="15" height="14" fill="#fff"/><text transform="scale(0.8,1)" x="0" y="5" font-size="14" text-anchor="middle">70</text></g>
<g transform="translate(261.0,413.4) rotate(0)"><rect x="-7.5" y="-7" width="15" height="14" fill="#fff"/><text transform="scale(0.8,1)" x="0" y="5" font-size="14" text-anchor="middle">70</text></g>
<g transform="translate(398.4,136.5) rotate(-70)"><rect x="-7.5" y="-7" width="15" height="14" fill="#fff"/><text transform="scale(0.8,1)" x="0" y="5" font-size="14" text-anchor="middle">50</text></g>
<g transform="translate(494.9,128.0) rotate(-45)"><rect x="-7.5" y="-7" width="15" height="14" fill="#fff"/><text transform="scale(0.8,1)" x="0" y="5" font-size="14" text-anchor="middle">50</text></g>
<g transform="translate(576.6,113.3) rotate(-90)"><rect x="-7.5" y="-7" width="15" height="14" fill="#fff"/><text transform="scale(0.8,1)" x="0" y="5" font-size="14" text-anchor="middle">50</text></g>
<g transform="translate(431.4,170.7) rotate(70)"><rect x="-7.5" y="-7" width="15" height="14" fill="#fff"/><text transform="scale(0.8,1)" x="0" y="5" font-size="14" text-anchor="middle">70</text></g>
<g transform="translate(459.5,169.5) rotate(80)"><rect x="-7.5" y="-7" width="15" height="14" fill="#fff"/><text transform="scale(0.8,1)" x="0" y="5" font-size="14" text-anchor="middle">70</text></g>
<g transform="translate(547.4,187.8) rotate(45)"><rect x="-7.5" y="-7" width="15" height="14" fill="#fff"/><text transform="scale(0.8,1)" x="0" y="5" font-size="14" text-anchor="middle">50</text></g>
<g transform="translate(546.1,215.8) rotate(90)"><rect x="-7.5" y="-7" width="15" height="14" fill="#fff"/><text transform="scale(0.8,1)" x="0" y="5" font-size="14" text-anchor="middle">70</text></g>
<g transform="translate(439.9,254.9) rotate(0)"><rect x="-7.5" y="-7" width="15" height="14" fill="#fff"/><text transform="scale(0.8,1)" x="0" y="5" font-size="14" text-anchor="middle">70</text></g>
<g transform="translate(540.0,250.0) rotate(-80)"><rect x="-7.5" y="-7" width="15" height="14" fill="#fff"/><text transform="scale(0.8,1)" x="0" y="5" font-size="14" text-anchor="middle">70</text></g>
<g transform="translate(609.6,261.0) rotate(80)"><rect x="-7.5" y="-7" width="15" height="14" fill="#fff"/><text transform="scale(0.8,1)" x="0" y="5" font-size="14" text-anchor="middle">50</text></g>
<g transform="translate(633.5,170.7) rotate(-60)"><rect x="-7.5" y="-7" width="15" height="14" fill="#fff"/><text transform="scale(0.8,1)" x="0" y="5" font-size="14" text-anchor="middle">50</text></g>
<g transform="translate(669.0,192.7) rotate(90)"><rect x="-7.5" y="-7" width="15" height="14" fill="#fff"/><text transform="scale(0.8,1)" x="0" y="5" font-size="14" text-anchor="middle">70</text></g>
<g transform="translate(714.1,181.7) rotate(80)"><rect x="-7.5" y="-7" width="15" height="14" fill="#fff"/><text transform="scale(0.8,1)" x="0" y="5" font-size="14" text-anchor="middle">70</text></g>
<g transform="translate(743.4,169.5) rotate(55)"><rect x="-7.5" y="-7" width="15" height="14" fill="#fff"/><text transform="scale(0.8,1)" x="0" y="5" font-size="14" text-anchor="middle">50</text></g>
<g transform="translate(659.2,226.8) rotate(90)"><rect x="-7.5" y="-7" width="15" height="14" fill="#fff"/><text transform="scale(0.8,1)" x="0" y="5" font-size="14" text-anchor="middle">50</text></g>
<g transform="translate(817.9,187.8) rotate(-60)"><rect x="-7.5" y="-7" width="15" height="14" fill="#fff"/><text transform="scale(0.8,1)" x="0" y="5" font-size="14" text-anchor="middle">70</text></g>
<g transform="translate(835.0,131.6) rotate(-35)"><rect x="-7.5" y="-7" width="15" height="14" fill="#fff"/><text transform="scale(0.8,1)" x="0" y="5" font-size="14" text-anchor="middle">50</text></g>
<g transform="translate(708.0,292.8) rotate(90)"><rect x="-7.5" y="-7" width="15" height="14" fill="#fff"/><text transform="scale(0.8,1)" x="0" y="5" font-size="14" text-anchor="middle">90</text></g>
<g transform="translate(411.9,375.6) rotate(40)"><rect x="-7.5" y="-7" width="15" height="14" fill="#fff"/><text transform="scale(0.8,1)" x="0" y="5" font-size="14" text-anchor="middle">70</text></g>
<g transform="translate(475.3,389.0) rotate(30)"><rect x="-7.5" y="-7" width="15" height="14" fill="#fff"/><text transform="scale(0.8,1)" x="0" y="5" font-size="14" text-anchor="middle">70</text></g>
<g transform="translate(498.5,352.4) rotate(80)"><rect x="-7.5" y="-7" width="15" height="14" fill="#fff"/><text transform="scale(0.8,1)" x="0" y="5" font-size="14" text-anchor="middle">70</text></g>
<g transform="translate(514.4,375.6) rotate(90)"><rect x="-7.5" y="-7" width="15" height="14" fill="#fff"/><text transform="scale(0.8,1)" x="0" y="5" font-size="14" text-anchor="middle">90</text></g>
<g transform="translate(523.0,397.5) rotate(90)"><rect x="-7.5" y="-7" width="15" height="14" fill="#fff"/><text transform="scale(0.8,1)" x="0" y="5" font-size="14" text-anchor="middle">70</text></g>
<g transform="translate(557.1,375.6) rotate(50)"><rect x="-7.5" y="-7" width="15" height="14" fill="#fff"/><text transform="scale(0.8,1)" x="0" y="5" font-size="14" text-anchor="middle">70</text></g>
<g transform="translate(604.7,318.2) rotate(80)"><rect x="-7.5" y="-7" width="15" height="14" fill="#fff"/><text transform="scale(0.8,1)" x="0" y="5" font-size="14" text-anchor="middle">70</text></g>
<g transform="translate(639.6,329.2) rotate(-70)"><rect x="-7.5" y="-7" width="15" height="14" fill="#fff"/><text transform="scale(0.8,1)" x="0" y="5" font-size="14" text-anchor="middle">70</text></g>
<g transform="translate(677.5,340.2) rotate(-70)"><rect x="-7.5" y="-7" width="15" height="14" fill="#fff"/><text transform="scale(0.8,1)" x="0" y="5" font-size="14" text-anchor="middle">90</text></g>
<g transform="translate(727.5,375.6) rotate(40)"><rect x="-7.5" y="-7" width="15" height="14" fill="#fff"/><text transform="scale(0.8,1)" x="0" y="5" font-size="14" text-anchor="middle">70</text></g>
<g transform="translate(699.5,431.7) rotate(50)"><rect x="-7.5" y="-7" width="15" height="14" fill="#fff"/><text transform="scale(0.8,1)" x="0" y="5" font-size="14" text-anchor="middle">50</text></g>
<text transform="translate(404.4,150.3) rotate(0)" x="0" y="7.2" font-size="20" fill="#ff0000" text-anchor="middle">-40</text>
<text transform="translate(693.0,148.0) rotate(0)" x="0" y="7.2" font-size="20" fill="#ff0000" text-anchor="middle">-40</text>
<text transform="translate(443.0,203.0) rotate(0)" x="0" y="7.2" font-size="20" fill="#ff0000" text-anchor="middle">-20</text>
<text transform="translate(710.0,200.0) rotate(0)" x="0" y="7.2" font-size="20" fill="#ff0000" text-anchor="middle">-20</text>
<text transform="translate(404.0,293.0) rotate(0)" x="0" y="7.2" font-size="20" fill="#ff0000" text-anchor="middle">0</text>
<text transform="translate(709.0,300.0) rotate(0)" x="0" y="7.2" font-size="20" fill="#ff0000" text-anchor="middle">0</text>
<text transform="translate(457.0,415.5) rotate(25)" x="0" y="7.2" font-size="20" fill="#ff0000" text-anchor="middle">20</text>
<text transform="translate(673.0,432.0) rotate(-50)" x="0" y="7.2" font-size="20" fill="#ff0000" text-anchor="middle">20</text>
<text transform="translate(806.0,420.0) rotate(-15)" x="0" y="7.2" font-size="20" fill="#ff0000" text-anchor="middle">20</text>
<g clip-path="url(#pc)" fill="none" stroke="#ff0000" stroke-width="1.4">
<polyline points="153.0,112.6 395.0,112.6 625.0,114.3 875.0,112.6"/>
<polyline points="153.0,129.7 395.0,129.7 480.0,131.8 625.0,130.8 875.0,128.7"/>
<polyline points="153.0,148.2 395.0,150.0 440.0,151.6 530.0,150.0 635.0,148.7 720.0,149.2 875.0,146.8"/>
<polyline points="153.0,171.9 245.0,170.2 395.0,173.1 460.0,174.3 530.0,170.7 635.0,171.9 720.0,170.7 875.0,169.5"/>
<polyline points="153.0,203.6 194.0,204.9 243.0,199.5 267.0,200.0 296.0,203.6 340.0,206.0 395.0,202.4 440.0,202.4 492.0,208.5 556.0,202.4 625.0,202.4 674.0,198.8 723.0,202.4 820.0,200.0 875.0,199.5"/>
<polyline points="153.0,242.7 189.0,246.4 218.0,241.0 260.0,237.8 291.0,243.9 352.0,247.6 395.0,246.4 458.0,252.5 492.0,247.6 544.0,241.5 580.0,247.6 625.0,243.9 654.0,247.6 674.0,239.0 747.0,243.9 820.0,236.6 875.0,238.6"/>
<polyline points="153.0,289.0 194.0,297.6 252.0,289.0 291.0,294.0 340.0,297.6 395.0,297.6 458.0,297.6 544.0,295.2 580.0,300.0 625.0,295.2 674.0,290.3 723.0,297.6 796.0,297.6 832.0,290.3 875.0,290.3"/>
<polyline points="153.0,339.0 170.0,345.0 218.0,343.8 277.0,345.0 316.0,352.4 352.0,342.6 395.0,345.0 434.0,346.3 495.0,343.8 512.0,357.3 522.0,347.5 546.0,345.0 580.0,350.0 654.0,352.4 723.0,351.2 771.0,353.6 832.0,348.7 875.0,352.4"/>
<polyline points="153.0,398.8 189.0,401.2 218.0,412.2 247.0,406.0 296.0,402.4 316.0,415.8 340.0,420.7 370.0,420.7 390.0,413.4 446.0,412.2 466.0,422.0 478.0,429.3 492.0,407.3 512.0,420.7 529.0,406.0 556.0,407.3 592.0,419.5 625.0,423.2 640.0,426.8 657.0,422.0 676.0,424.4 691.0,402.4 708.0,397.5 727.0,402.4 762.0,423.2 781.0,425.6 801.0,422.0 815.0,417.0 845.0,415.8 875.0,418.3"/>
<polyline points="225.6,468.0 242.7,442.7 257.3,446.4 272.0,468.0"/>
<polyline points="377.0,468.0 387.0,455.0 407.0,466.0"/>
<polyline points="503.4,488.0 510.7,476.9"/>
<polyline points="813.0,466.0 818.0,463.0 822.7,466.0"/>
</g>
<rect x="153.5" y="102.3" width="716.80" height="410.04" fill="none" stroke="#000" stroke-width="1.6"/>
<path d="M153.50 512.34V498.34M153.50 102.30V116.30M171.42 512.34V498.34M171.42 102.30V116.30M189.34 512.34V498.34M189.34 102.30V116.30M207.26 512.34V498.34M207.26 102.30V116.30M225.18 512.34V498.34M225.18 102.30V116.30M243.10 512.34V498.34M243.10 102.30V116.30M261.02 512.34V498.34M261.02 102.30V116.30M278.94 512.34V498.34M278.94 102.30V116.30M296.86 512.34V498.34M296.86 102.30V116.30M314.78 512.34V498.34M314.78 102.30V116.30M332.70 512.34V498.34M332.70 102.30V116.30M350.62 512.34V498.34M350.62 102.30V116.30M368.54 512.34V498.34M368.54 102.30V116.30M386.46 512.34V498.34M386.46 102.30V116.30M404.38 512.34V498.34M404.38 102.30V116.30M422.30 512.34V498.34M422.30 102.30V116.30M440.22 512.34V498.34M440.22 102.30V116.30M458.14 512.34V498.34M458.14 102.30V116.30M476.06 512.34V498.34M476.06 102.30V116.30M493.98 512.34V498.34M493.98 102.30V116.30M511.90 512.34V498.34M511.90 102.30V116.30M529.82 512.34V498.34M529.82 102.30V116.30M547.74 512.34V498.34M547.74 102.30V116.30M565.66 512.34V498.34M565.66 102.30V116.30M583.58 512.34V498.34M583.58 102.30V116.30M601.50 512.34V498.34M601.50 102.30V116.30M619.42 512.34V498.34M619.42 102.30V116.30M637.34 512.34V498.34M637.34 102.30V116.30M655.26 512.34V498.34M655.26 102.30V116.30M673.18 512.34V498.34M673.18 102.30V116.30M691.10 512.34V498.34M691.10 102.30V116.30M709.02 512.34V498.34M709.02 102.30V116.30M726.94 512.34V498.34M726.94 102.30V116.30M744.86 512.34V498.34M744.86 102.30V116.30M762.78 512.34V498.34M762.78 102.30V116.30M780.70 512.34V498.34M780.70 102.30V116.30M798.62 512.34V498.34M798.62 102.30V116.30M816.54 512.34V498.34M816.54 102.30V116.30M834.46 512.34V498.34M834.46 102.30V116.30M852.38 512.34V498.34M852.38 102.30V116.30M870.30 512.34V498.34M870.30 102.30V116.30M153.50 102.30H177.50M870.30 102.30H846.30M153.50 125.08H177.50M870.30 125.08H846.30M153.50 147.86H177.50M870.30 147.86H846.30M153.50 170.64H177.50M870.30 170.64H846.30M153.50 193.42H177.50M870.30 193.42H846.30M153.50 216.20H177.50M870.30 216.20H846.30M153.50 238.98H177.50M870.30 238.98H846.30M153.50 261.76H177.50M870.30 261.76H846.30M153.50 284.54H177.50M870.30 284.54H846.30M153.50 307.32H177.50M870.30 307.32H846.30M153.50 330.10H177.50M870.30 330.10H846.30M153.50 352.88H177.50M870.30 352.88H846.30M153.50 375.66H177.50M870.30 375.66H846.30M153.50 398.44H177.50M870.30 398.44H846.30M153.50 421.22H177.50M870.30 421.22H846.30M153.50 444.00H177.50M870.30 444.00H846.30M153.50 466.78H177.50M870.30 466.78H846.30M153.50 489.56H177.50M870.30 489.56H846.30M153.50 512.34H177.50M870.30 512.34H846.30" stroke="#000" stroke-width="1.6" fill="none"/>
<text x="140.3" y="109.00" font-size="18.6" text-anchor="end">150</text>
<text x="140.3" y="131.78" font-size="18.6" text-anchor="end">200</text>
<text x="140.3" y="154.56" font-size="18.6" text-anchor="end">250</text>
<text x="140.3" y="177.34" font-size="18.6" text-anchor="end">300</text>
<text x="140.3" y="200.12" font-size="18.6" text-anchor="end">350</text>
<text x="140.3" y="222.90" font-size="18.6" text-anchor="end">400</text>
<text x="140.3" y="245.68" font-size="18.6" text-anchor="end">450</text>
<text x="140.3" y="268.46" font-size="18.6" text-anchor="end">500</text>
<text x="140.3" y="291.24" font-size="18.6" text-anchor="end">550</text>
<text x="140.3" y="314.02" font-size="18.6" text-anchor="end">600</text>
<text x="140.3" y="336.80" font-size="18.6" text-anchor="end">650</text>
<text x="140.3" y="359.58" font-size="18.6" text-anchor="end">700</text>
<text x="140.3" y="382.36" font-size="18.6" text-anchor="end">750</text>
<text x="140.3" y="405.14" font-size="18.6" text-anchor="end">800</text>
<text x="140.3" y="427.92" font-size="18.6" text-anchor="end">850</text>
<text x="140.3" y="450.70" font-size="18.6" text-anchor="end">925</text>
<text x="140.3" y="473.48" font-size="18.6" text-anchor="end">950</text>
<text x="140.3" y="496.26" font-size="18.6" text-anchor="end">975</text>
<text x="140.3" y="519.04" font-size="18.6" text-anchor="end">1000</text>
<text transform="translate(158.40,523.8) rotate(-90)" font-size="17" text-anchor="end">29_00</text>
<text transform="translate(176.32,523.8) rotate(-90)" font-size="17" text-anchor="end">29_03</text>
<text transform="translate(194.24,523.8) rotate(-90)" font-size="17" text-anchor="end">29_06</text>
<text transform="translate(212.16,523.8) rotate(-90)" font-size="17" text-anchor="end">29_09</text>
<text transform="translate(230.08,523.8) rotate(-90)" font-size="17" text-anchor="end">29_12</text>
<text transform="translate(248.00,523.8) rotate(-90)" font-size="17" text-anchor="end">29_15</text>
<text transform="translate(265.92,523.8) rotate(-90)" font-size="17" text-anchor="end">29_18</text>
<text transform="translate(283.84,523.8) rotate(-90)" font-size="17" text-anchor="end">29_21</text>
<text transform="translate(301.76,523.8) rotate(-90)" font-size="17" text-anchor="end">30_00</text>
<text transform="translate(319.68,523.8) rotate(-90)" font-size="17" text-anchor="end">30_03</text>
<text transform="translate(337.60,523.8) rotate(-90)" font-size="17" text-anchor="end">30_06</text>
<text transform="translate(355.52,523.8) rotate(-90)" font-size="17" text-anchor="end">30_09</text>
<text transform="translate(373.44,523.8) rotate(-90)" font-size="17" text-anchor="end">30_12</text>
<text transform="translate(391.36,523.8) rotate(-90)" font-size="17" text-anchor="end">30_15</text>
<text transform="translate(409.28,523.8) rotate(-90)" font-size="17" text-anchor="end">30_18</text>
<text transform="translate(427.20,523.8) rotate(-90)" font-size="17" text-anchor="end">30_21</text>
<text transform="translate(445.12,523.8) rotate(-90)" font-size="17" text-anchor="end">31_00</text>
<text transform="translate(463.04,523.8) rotate(-90)" font-size="17" text-anchor="end">31_03</text>
<text transform="translate(480.96,523.8) rotate(-90)" font-size="17" text-anchor="end">31_06</text>
<text transform="translate(498.88,523.8) rotate(-90)" font-size="17" text-anchor="end">31_09</text>
<text transform="translate(516.80,523.8) rotate(-90)" font-size="17" text-anchor="end">31_12</text>
<text transform="translate(534.72,523.8) rotate(-90)" font-size="17" text-anchor="end">31_15</text>
<text transform="translate(552.64,523.8) rotate(-90)" font-size="17" text-anchor="end">31_18</text>
<text transform="translate(570.56,523.8) rotate(-90)" font-size="17" text-anchor="end">31_21</text>
<text transform="translate(588.48,523.8) rotate(-90)" font-size="17" text-anchor="end">01_00</text>
<text transform="translate(606.40,523.8) rotate(-90)" font-size="17" text-anchor="end">01_03</text>
<text transform="translate(624.32,523.8) rotate(-90)" font-size="17" text-anchor="end">01_06</text>
<text transform="translate(642.24,523.8) rotate(-90)" font-size="17" text-anchor="end">01_09</text>
<text transform="translate(660.16,523.8) rotate(-90)" font-size="17" text-anchor="end">01_12</text>
<text transform="translate(678.08,523.8) rotate(-90)" font-size="17" text-anchor="end">01_15</text>
<text transform="translate(696.00,523.8) rotate(-90)" font-size="17" text-anchor="end">01_18</text>
<text transform="translate(713.92,523.8) rotate(-90)" font-size="17" text-anchor="end">01_21</text>
<text transform="translate(731.84,523.8) rotate(-90)" font-size="17" text-anchor="end">02_00</text>
<text transform="translate(749.76,523.8) rotate(-90)" font-size="17" text-anchor="end">02_03</text>
<text transform="translate(767.68,523.8) rotate(-90)" font-size="17" text-anchor="end">02_06</text>
<text transform="translate(785.60,523.8) rotate(-90)" font-size="17" text-anchor="end">02_09</text>
<text transform="translate(803.52,523.8) rotate(-90)" font-size="17" text-anchor="end">02_12</text>
<text transform="translate(821.44,523.8) rotate(-90)" font-size="17" text-anchor="end">02_15</text>
<text transform="translate(839.36,523.8) rotate(-90)" font-size="17" text-anchor="end">02_18</text>
<text transform="translate(857.28,523.8) rotate(-90)" font-size="17" text-anchor="end">02_21</text>
<text transform="translate(875.20,523.8) rotate(-90)" font-size="17" text-anchor="end">03_00</text>
<text transform="translate(82.3,307) rotate(-90)" font-size="23.5" text-anchor="middle">Pressure (hPa)</text>
<rect x="542.6" y="577.5" width="328.1" height="25" fill="#fff" stroke="#000" stroke-width="0.8"/>
<line x1="546.4" y1="578" x2="546.4" y2="602" stroke="#000" stroke-width="0.6"/>
<text x="551" y="597.3" font-size="19.8" textLength="315.5" lengthAdjust="spacingAndGlyphs">CONTOUR FROM -60 TO 30 BY 10</text>
<rect x="916.4" y="96.40" width="25.40" height="35.28" fill="#159515" stroke="#000" stroke-width="0.8"/>
<rect x="916.4" y="131.68" width="25.40" height="35.28" fill="#33c633" stroke="#000" stroke-width="0.8"/>
<rect x="916.4" y="166.96" width="25.40" height="35.28" fill="#50fc50" stroke="#000" stroke-width="0.8"/>
<rect x="916.4" y="202.25" width="25.40" height="35.28" fill="#7dfc7d" stroke="#000" stroke-width="0.8"/>
<rect x="916.4" y="237.53" width="25.40" height="35.28" fill="#b8fcb8" stroke="#000" stroke-width="0.8"/>
<rect x="916.4" y="272.81" width="25.40" height="35.28" fill="#bbffbb" stroke="#000" stroke-width="0.8"/>
<rect x="916.4" y="308.09" width="25.40" height="35.28" fill="#ddffdd" stroke="#000" stroke-width="0.8"/>
<rect x="916.4" y="343.37" width="25.40" height="35.28" fill="#f0fff0" stroke="#000" stroke-width="0.8"/>
<rect x="916.4" y="378.65" width="25.40" height="35.28" fill="#ffffff" stroke="#000" stroke-width="0.8"/>
<rect x="916.4" y="413.94" width="25.40" height="35.28" fill="#ffffff" stroke="#000" stroke-width="0.8"/>
<rect x="916.4" y="449.22" width="25.40" height="35.28" fill="#ffffff" stroke="#000" stroke-width="0.8"/>
<text x="960" y="136.68" font-size="14">100</text>
<text x="960" y="171.96" font-size="14">90</text>
<text x="960" y="207.25" font-size="14">80</text>
<text x="960" y="242.53" font-size="14">70</text>
<text x="960" y="277.81" font-size="14">60</text>
<text x="960" y="313.09" font-size="14">50</text>
<text x="960" y="348.37" font-size="14">40</text>
<text x="960" y="383.65" font-size="14">30</text>
<text x="960" y="418.94" font-size="14">20</text>
<text x="960" y="454.22" font-size="14">10</text>
<text transform="translate(104.3,726.2) rotate(-90)" font-size="23.7" text-anchor="middle">3hr rain total</text>
<g clip-path="url(#rc)">
<rect x="287.90" y="774.59" width="17.92" height="3.71" fill="#0000ff" stroke="#000" stroke-width="0.6"/>
<rect x="377.50" y="774.18" width="17.92" height="4.12" fill="#0000ff" stroke="#000" stroke-width="0.6"/>
<rect x="395.42" y="771.71" width="17.92" height="6.59" fill="#0000ff" stroke="#000" stroke-width="0.6"/>
<rect x="431.26" y="774.59" width="17.92" height="3.71" fill="#0000ff" stroke="#000" stroke-width="0.6"/>
<rect x="449.18" y="771.30" width="17.92" height="7.00" fill="#0000ff" stroke="#000" stroke-width="0.6"/>
<rect x="467.10" y="777.06" width="17.92" height="1.24" fill="#0000ff" stroke="#000" stroke-width="0.6"/>
<rect x="502.94" y="768.42" width="17.92" height="9.88" fill="#0000ff" stroke="#000" stroke-width="0.6"/>
<rect x="520.86" y="768.01" width="17.92" height="10.29" fill="#0000ff" stroke="#000" stroke-width="0.6"/>
<rect x="646.30" y="771.30" width="17.92" height="7.00" fill="#0000ff" stroke="#000" stroke-width="0.6"/>
<rect x="664.22" y="705.84" width="17.92" height="72.46" fill="#0000ff" stroke="#000" stroke-width="0.6"/>
<rect x="682.14" y="770.89" width="17.92" height="7.41" fill="#0000ff" stroke="#000" stroke-width="0.6"/>
<rect x="807.58" y="774.18" width="17.92" height="4.12" fill="#0000ff" stroke="#000" stroke-width="0.6"/>
<rect x="825.50" y="769.65" width="17.92" height="8.65" fill="#0000ff" stroke="#000" stroke-width="0.6"/>
<rect x="843.42" y="774.59" width="17.92" height="3.71" fill="#0000ff" stroke="#000" stroke-width="0.6"/>
<rect x="861.34" y="774.18" width="17.92" height="4.12" fill="#0000ff" stroke="#000" stroke-width="0.6"/>
</g>
<defs><clipPath id="rc"><rect x="153.4" y="675.6" width="716.90" height="102.70"/></clipPath></defs>
<rect x="153.4" y="675.6" width="716.90" height="102.70" fill="none" stroke="#000" stroke-width="1.2"/>
<path d="M146.40 774.18H153.40M870.30 774.18H877.30M146.40 770.07H153.40M870.30 770.07H877.30M146.40 765.95H153.40M870.30 765.95H877.30M146.40 757.71H153.40M870.30 757.71H877.30M146.40 753.60H153.40M870.30 753.60H877.30M146.40 749.48H153.40M870.30 749.48H877.30M146.40 741.25H153.40M870.30 741.25H877.30M146.40 737.13H153.40M870.30 737.13H877.30M146.40 733.01H153.40M870.30 733.01H877.30M146.40 724.78H153.40M870.30 724.78H877.30M146.40 720.66H153.40M870.30 720.66H877.30M146.40 716.54H153.40M870.30 716.54H877.30M146.40 708.31H153.40M870.30 708.31H877.30M146.40 704.19H153.40M870.30 704.19H877.30M146.40 700.08H153.40M870.30 700.08H877.30M146.40 691.84H153.40M870.30 691.84H877.30M146.40 687.73H153.40M870.30 687.73H877.30M146.40 683.61H153.40M870.30 683.61H877.30M146.40 675.38H153.40M870.30 675.38H877.30" stroke="#666" stroke-width="1" fill="none"/>
<path d="M139.40 778.30H153.40M870.30 778.30H884.30M139.40 761.83H153.40M870.30 761.83H884.30M139.40 745.36H153.40M870.30 745.36H884.30M139.40 728.90H153.40M870.30 728.90H884.30M139.40 712.43H153.40M870.30 712.43H884.30M139.40 695.96H153.40M870.30 695.96H884.30M139.40 679.49H153.40M870.30 679.49H884.30M153.50 778.30V791.80M171.42 778.30V791.80M189.34 778.30V791.80M207.26 778.30V791.80M225.18 778.30V791.80M243.10 778.30V791.80M261.02 778.30V791.80M278.94 778.30V791.80M296.86 778.30V791.80M314.78 778.30V791.80M332.70 778.30V791.80M350.62 778.30V791.80M368.54 778.30V791.80M386.46 778.30V791.80M404.38 778.30V791.80M422.30 778.30V791.80M440.22 778.30V791.80M458.14 778.30V791.80M476.06 778.30V791.80M493.98 778.30V791.80M511.90 778.30V791.80M529.82 778.30V791.80M547.74 778.30V791.80M565.66 778.30V791.80M583.58 778.30V791.80M601.50 778.30V791.80M619.42 778.30V791.80M637.34 778.30V791.80M655.26 778.30V791.80M673.18 778.30V791.80M691.10 778.30V791.80M709.02 778.30V791.80M726.94 778.30V791.80M744.86 778.30V791.80M762.78 778.30V791.80M780.70 778.30V791.80M798.62 778.30V791.80M816.54 778.30V791.80M834.46 778.30V791.80M852.38 778.30V791.80M870.30 778.30V791.80" stroke="#000" stroke-width="1" fill="none"/>
<text x="132.5" y="782.90" font-size="11" text-anchor="end">0</text>
<text x="132.5" y="766.43" font-size="11" text-anchor="end">4</text>
<text x="132.5" y="749.96" font-size="11" text-anchor="end">8</text>
<text x="132.5" y="733.50" font-size="11" text-anchor="end">12</text>
<text x="132.5" y="717.03" font-size="11" text-anchor="end">16</text>
<text x="132.5" y="700.56" font-size="11" text-anchor="end">20</text>
<text x="132.5" y="684.09" font-size="11" text-anchor="end">24</text>
<text transform="translate(166.10,781) rotate(-90)" font-size="17" text-anchor="end">29_00</text>
<text transform="translate(184.02,781) rotate(-90)" font-size="17" text-anchor="end">29_03</text>
<text transform="translate(201.94,781) rotate(-90)" font-size="17" text-anchor="end">29_06</text>
<text transform="translate(219.86,781) rotate(-90)" font-size="17" text-anchor="end">29_09</text>
<text transform="translate(237.78,781) rotate(-90)" font-size="17" text-anchor="end">29_12</text>
<text transform="translate(255.70,781) rotate(-90)" font-size="17" text-anchor="end">29_15</text>
<text transform="translate(273.62,781) rotate(-90)" font-size="17" text-anchor="end">29_18</text>
<text transform="translate(291.54,781) rotate(-90)" font-size="17" text-anchor="end">29_21</text>
<text transform="translate(309.46,781) rotate(-90)" font-size="17" text-anchor="end">30_00</text>
<text transform="translate(327.38,781) rotate(-90)" font-size="17" text-anchor="end">30_03</text>
<text transform="translate(345.30,781) rotate(-90)" font-size="17" text-anchor="end">30_06</text>
<text transform="translate(363.22,781) rotate(-90)" font-size="17" text-anchor="end">30_09</text>
<text transform="translate(381.14,781) rotate(-90)" font-size="17" text-anchor="end">30_12</text>
<text transform="translate(399.06,781) rotate(-90)" font-size="17" text-anchor="end">30_15</text>
<text transform="translate(416.98,781) rotate(-90)" font-size="17" text-anchor="end">30_18</text>
<text transform="translate(434.90,781) rotate(-90)" font-size="17" text-anchor="end">30_21</text>
<text transform="translate(452.82,781) rotate(-90)" font-size="17" text-anchor="end">31_00</text>
<text transform="translate(470.74,781) rotate(-90)" font-size="17" text-anchor="end">31_03</text>
<text transform="translate(488.66,781) rotate(-90)" font-size="17" text-anchor="end">31_06</text>
<text transform="translate(506.58,781) rotate(-90)" font-size="17" text-anchor="end">31_09</text>
<text transform="translate(524.50,781) rotate(-90)" font-size="17" text-anchor="end">31_12</text>
<text transform="translate(542.42,781) rotate(-90)" font-size="17" text-anchor="end">31_15</text>
<text transform="translate(560.34,781) rotate(-90)" font-size="17" text-anchor="end">31_18</text>
<text transform="translate(578.26,781) rotate(-90)" font-size="17" text-anchor="end">31_21</text>
<text transform="translate(596.18,781) rotate(-90)" font-size="17" text-anchor="end">01_00</text>
<text transform="translate(614.10,781) rotate(-90)" font-size="17" text-anchor="end">01_03</text>
<text transform="translate(632.02,781) rotate(-90)" font-size="17" text-anchor="end">01_06</text>
<text transform="translate(649.94,781) rotate(-90)" font-size="17" text-anchor="end">01_09</text>
<text transform="translate(667.86,781) rotate(-90)" font-size="17" text-anchor="end">01_12</text>
<text transform="translate(685.78,781) rotate(-90)" font-size="17" text-anchor="end">01_15</text>
<text transform="translate(703.70,781) rotate(-90)" font-size="17" text-anchor="end">01_18</text>
<text transform="translate(721.62,781) rotate(-90)" font-size="17" text-anchor="end">01_21</text>
<text transform="translate(739.54,781) rotate(-90)" font-size="17" text-anchor="end">02_00</text>
<text transform="translate(757.46,781) rotate(-90)" font-size="17" text-anchor="end">02_03</text>
<text transform="translate(775.38,781) rotate(-90)" font-size="17" text-anchor="end">02_06</text>
<text transform="translate(793.30,781) rotate(-90)" font-size="17" text-anchor="end">02_09</text>
<text transform="translate(811.22,781) rotate(-90)" font-size="17" text-anchor="end">02_12</text>
<text transform="translate(829.14,781) rotate(-90)" font-size="17" text-anchor="end">02_15</text>
<text transform="translate(847.06,781) rotate(-90)" font-size="17" text-anchor="end">02_18</text>
<text transform="translate(864.98,781) rotate(-90)" font-size="17" text-anchor="end">02_21</text>
<text transform="translate(882.90,781) rotate(-90)" font-size="17" text-anchor="end">03_00</text>
<text transform="translate(91.8,891) rotate(-90)" font-size="23.7" text-anchor="middle">Temp at 2m</text>
<polyline points="153.50,928.70 171.42,931.70 189.34,934.00 207.26,892.90 225.18,861.10 243.10,843.60 261.02,855.60 278.94,884.80 296.86,907.20 314.78,917.80 332.70,923.90 350.62,898.10 368.54,866.30 386.46,854.20 404.38,866.30 422.30,887.50 440.22,907.20 458.14,916.30 476.06,921.70 493.98,892.10 511.90,870.30 529.82,876.30 547.74,873.30 565.66,888.40 583.58,905.70 601.50,917.70 619.42,923.80 637.34,894.50 655.26,869.30 673.18,930.50 691.10,920.20 709.02,923.50 726.94,931.50 744.86,938.00 762.78,935.70 780.70,901.90 798.62,874.50 816.54,862.20 834.46,877.70 852.38,894.50 870.30,922.50" fill="none" stroke="#ff0000" stroke-width="1.2"/>
<rect x="153.4" y="839.4" width="716.90" height="101.90" fill="none" stroke="#000" stroke-width="1.2"/>
<path d="M139.40 935.70H153.40M870.30 935.70H884.30M146.40 928.04H153.40M870.30 928.04H877.30M146.40 920.37H153.40M870.30 920.37H877.30M139.40 912.70H153.40M870.30 912.70H884.30M146.40 905.04H153.40M870.30 905.04H877.30M146.40 897.37H153.40M870.30 897.37H877.30M139.40 889.70H153.40M870.30 889.70H884.30M146.40 882.04H153.40M870.30 882.04H877.30M146.40 874.37H153.40M870.30 874.37H877.30M139.40 866.70H153.40M870.30 866.70H884.30M146.40 859.03H153.40M870.30 859.03H877.30M146.40 851.37H153.40M870.30 851.37H877.30M139.40 843.70H153.40M870.30 843.70H884.30M153.50 941.30V954.80M171.42 941.30V954.80M189.34 941.30V954.80M207.26 941.30V954.80M225.18 941.30V954.80M243.10 941.30V954.80M261.02 941.30V954.80M278.94 941.30V954.80M296.86 941.30V954.80M314.78 941.30V954.80M332.70 941.30V954.80M350.62 941.30V954.80M368.54 941.30V954.80M386.46 941.30V954.80M404.38 941.30V954.80M422.30 941.30V954.80M440.22 941.30V954.80M458.14 941.30V954.80M476.06 941.30V954.80M493.98 941.30V954.80M511.90 941.30V954.80M529.82 941.30V954.80M547.74 941.30V954.80M565.66 941.30V954.80M583.58 941.30V954.80M601.50 941.30V954.80M619.42 941.30V954.80M637.34 941.30V954.80M655.26 941.30V954.80M673.18 941.30V954.80M691.10 941.30V954.80M709.02 941.30V954.80M726.94 941.30V954.80M744.86 941.30V954.80M762.78 941.30V954.80M780.70 941.30V954.80M798.62 941.30V954.80M816.54 941.30V954.80M834.46 941.30V954.80M852.38 941.30V954.80M870.30 941.30V954.80" stroke="#000" stroke-width="1" fill="none"/>
<text x="132.5" y="939.70" font-size="11" text-anchor="end">24.0</text>
<text x="132.5" y="916.70" font-size="11" text-anchor="end">27.0</text>
<text x="132.5" y="893.70" font-size="11" text-anchor="end">30.0</text>
<text x="132.5" y="870.70" font-size="11" text-anchor="end">33.0</text>
<text x="132.5" y="847.70" font-size="11" text-anchor="end">36.0</text>
<text transform="translate(166.10,945.2) rotate(-90)" font-size="17" text-anchor="end">29_00</text>
<text transform="translate(184.02,945.2) rotate(-90)" font-size="17" text-anchor="end">29_03</text>
<text transform="translate(201.94,945.2) rotate(-90)" font-size="17" text-anchor="end">29_06</text>
<text transform="translate(219.86,945.2) rotate(-90)" font-size="17" text-anchor="end">29_09</text>
<text transform="translate(237.78,945.2) rotate(-90)" font-size="17" text-anchor="end">29_12</text>
<text transform="translate(255.70,945.2) rotate(-90)" font-size="17" text-anchor="end">29_15</text>
<text transform="translate(273.62,945.2) rotate(-90)" font-size="17" text-anchor="end">29_18</text>
<text transform="translate(291.54,945.2) rotate(-90)" font-size="17" text-anchor="end">29_21</text>
<text transform="translate(309.46,945.2) rotate(-90)" font-size="17" text-anchor="end">30_00</text>
<text transform="translate(327.38,945.2) rotate(-90)" font-size="17" text-anchor="end">30_03</text>
<text transform="translate(345.30,945.2) rotate(-90)" font-size="17" text-anchor="end">30_06</text>
<text transform="translate(363.22,945.2) rotate(-90)" font-size="17" text-anchor="end">30_09</text>
<text transform="translate(381.14,945.2) rotate(-90)" font-size="17" text-anchor="end">30_12</text>
<text transform="translate(399.06,945.2) rotate(-90)" font-size="17" text-anchor="end">30_15</text>
<text transform="translate(416.98,945.2) rotate(-90)" font-size="17" text-anchor="end">30_18</text>
<text transform="translate(434.90,945.2) rotate(-90)" font-size="17" text-anchor="end">30_21</text>
<text transform="translate(452.82,945.2) rotate(-90)" font-size="17" text-anchor="end">31_00</text>
<text transform="translate(470.74,945.2) rotate(-90)" font-size="17" text-anchor="end">31_03</text>
<text transform="translate(488.66,945.2) rotate(-90)" font-size="17" text-anchor="end">31_06</text>
<text transform="translate(506.58,945.2) rotate(-90)" font-size="17" text-anchor="end">31_09</text>
<text transform="translate(524.50,945.2) rotate(-90)" font-size="17" text-anchor="end">31_12</text>
<text transform="translate(542.42,945.2) rotate(-90)" font-size="17" text-anchor="end">31_15</text>
<text transform="translate(560.34,945.2) rotate(-90)" font-size="17" text-anchor="end">31_18</text>
<text transform="translate(578.26,945.2) rotate(-90)" font-size="17" text-anchor="end">31_21</text>
<text transform="translate(596.18,945.2) rotate(-90)" font-size="17" text-anchor="end">01_00</text>
<text transform="translate(614.10,945.2) rotate(-90)" font-size="17" text-anchor="end">01_03</text>
<text transform="translate(632.02,945.2) rotate(-90)" font-size="17" text-anchor="end">01_06</text>
<text transform="translate(649.94,945.2) rotate(-90)" font-size="17" text-anchor="end">01_09</text>
<text transform="translate(667.86,945.2) rotate(-90)" font-size="17" text-anchor="end">01_12</text>
<text transform="translate(685.78,945.2) rotate(-90)" font-size="17" text-anchor="end">01_15</text>
<text transform="translate(703.70,945.2) rotate(-90)" font-size="17" text-anchor="end">01_18</text>
<text transform="translate(721.62,945.2) rotate(-90)" font-size="17" text-anchor="end">01_21</text>
<text transform="translate(739.54,945.2) rotate(-90)" font-size="17" text-anchor="end">02_00</text>
<text transform="translate(757.46,945.2) rotate(-90)" font-size="17" text-anchor="end">02_03</text>
<text transform="translate(775.38,945.2) rotate(-90)" font-size="17" text-anchor="end">02_06</text>
<text transform="translate(793.30,945.2) rotate(-90)" font-size="17" text-anchor="end">02_09</text>
<text transform="translate(811.22,945.2) rotate(-90)" font-size="17" text-anchor="end">02_12</text>
<text transform="translate(829.14,945.2) rotate(-90)" font-size="17" text-anchor="end">02_15</text>
<text transform="translate(847.06,945.2) rotate(-90)" font-size="17" text-anchor="end">02_18</text>
<text transform="translate(864.98,945.2) rotate(-90)" font-size="17" text-anchor="end">02_21</text>
<text transform="translate(882.90,945.2) rotate(-90)" font-size="17" text-anchor="end">03_00</text>
</svg></body></html>
